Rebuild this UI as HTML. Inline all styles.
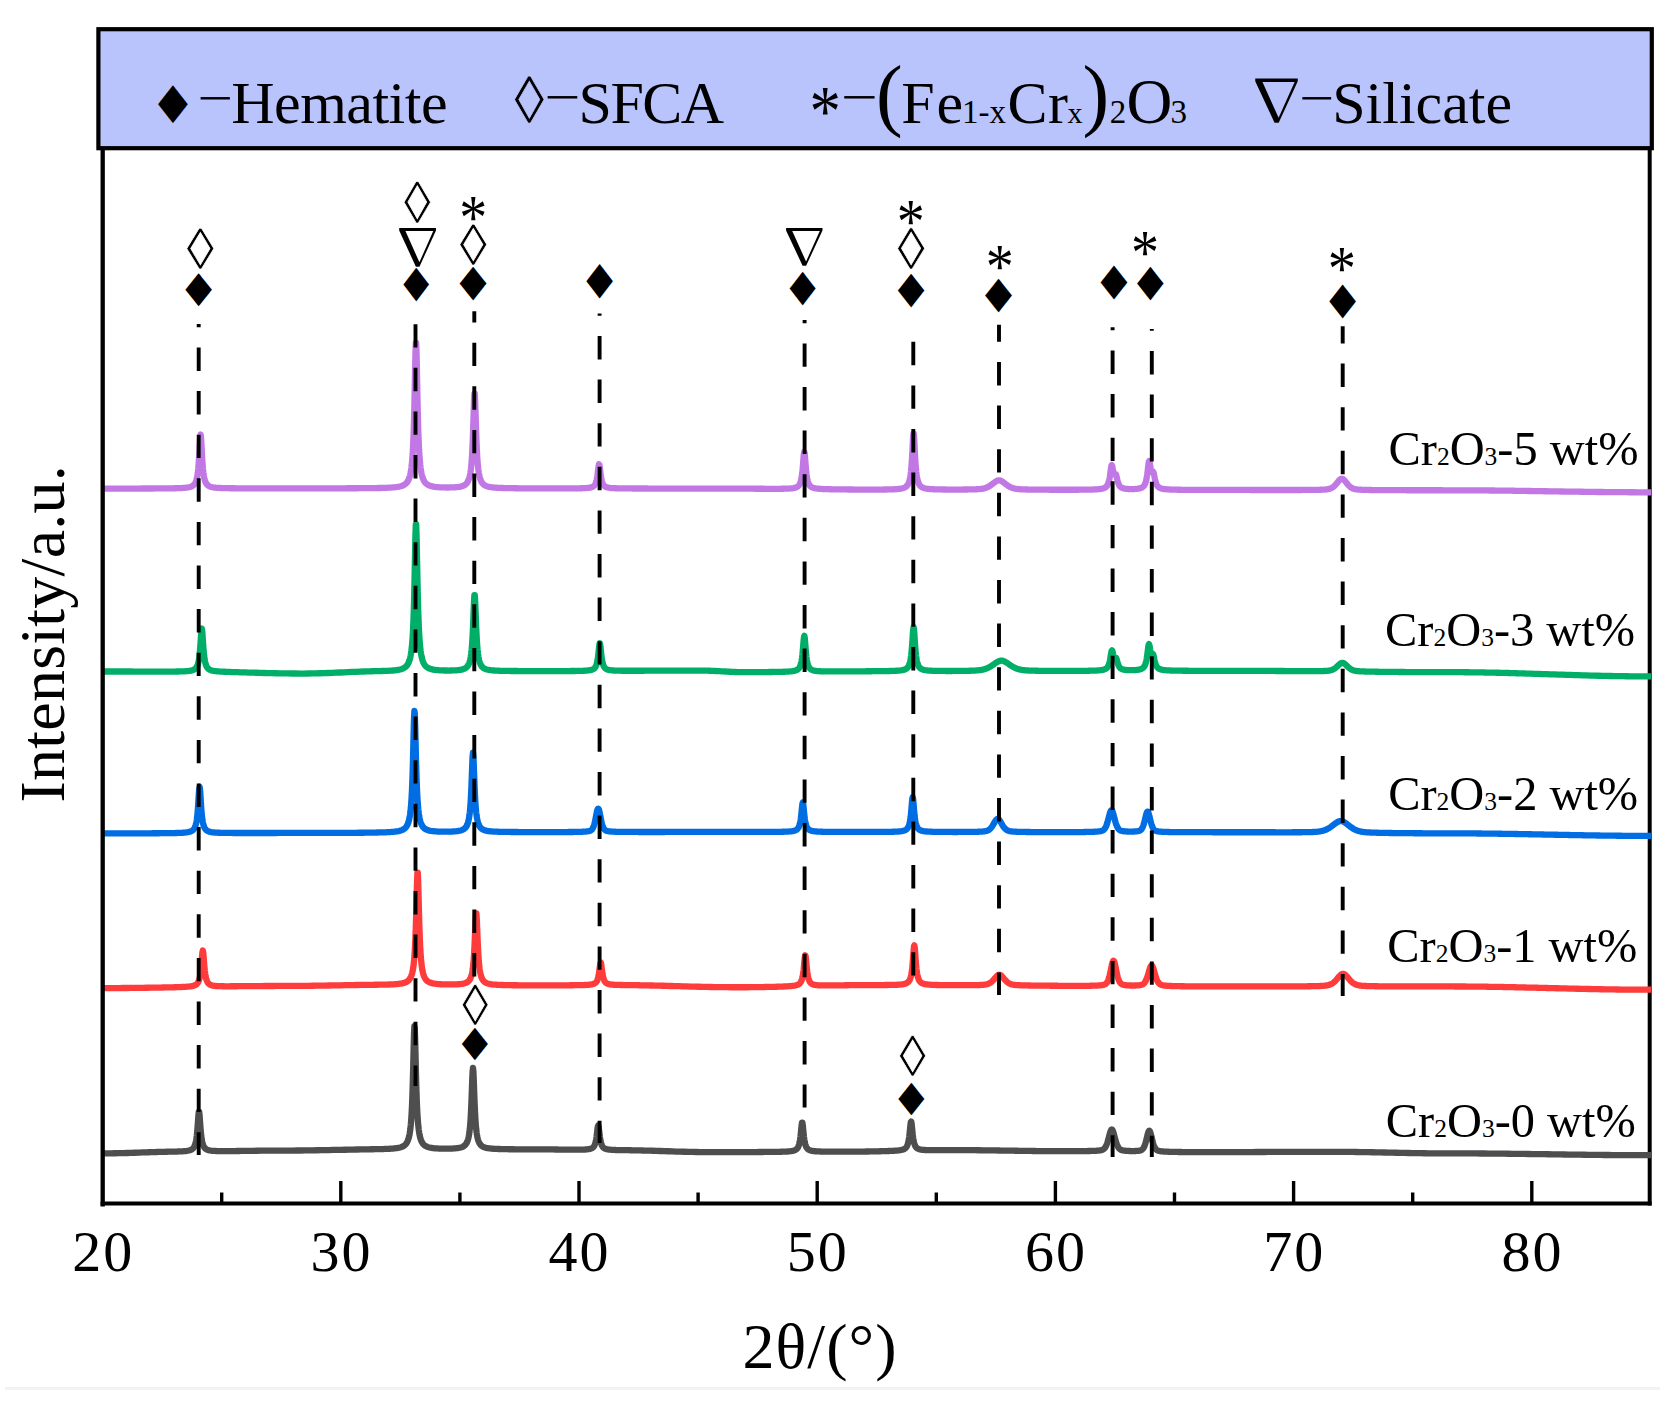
<!DOCTYPE html>
<html lang="en"><head><meta charset="utf-8"><title>XRD patterns</title>
<style>html,body{margin:0;padding:0;background:#fff}body{width:1670px;height:1404px;overflow:hidden}</style></head>
<body>
<svg width="1670" height="1404" viewBox="0 0 1670 1404" style="display:block">
<rect width="1670" height="1404" fill="#ffffff"/>
<rect x="5" y="1387" width="1655" height="3" fill="#f3f3f3"/>
<line x1="1649.7" y1="148" x2="1649.7" y2="1205.5" stroke="#000" stroke-width="4"/>
<path d="M102.8 1153.38 L106.8 1153.36 L110.8 1153.32 L114.8 1153.26 L118.8 1153.19 L122.8 1153.09 L126.8 1152.98 L130.8 1152.86 L134.8 1152.73 L138.8 1152.59 L142.8 1152.46 L146.8 1152.32 L148.8 1152.25 L150.8 1152.19 L152.8 1152.13 L154.8 1152.06 L156.8 1152.00 L158.8 1151.95 L160.8 1151.89 L162.8 1151.84 L164.8 1151.79 L166.8 1151.75 L168.8 1151.70 L170.8 1151.66 L172.8 1151.62 L174.8 1151.57 L175.8 1151.55 L176.8 1151.53 L177.8 1151.50 L178.8 1151.47 L179.8 1151.44 L180.8 1151.40 L181.8 1151.35 L182.8 1151.29 L183.8 1151.22 L184.8 1151.14 L185.8 1151.04 L186.8 1150.91 L187.8 1150.75 L188.8 1150.54 L189.2 1150.44 L189.6 1150.33 L190.0 1150.20 L190.4 1150.06 L190.8 1149.90 L191.2 1149.71 L191.6 1149.49 L192.0 1149.24 L192.4 1148.95 L192.8 1148.61 L193.2 1148.20 L193.6 1147.70 L194.0 1147.11 L194.4 1146.38 L194.8 1145.47 L195.2 1144.34 L195.6 1142.90 L196.0 1141.06 L196.4 1138.67 L196.8 1135.57 L197.2 1131.58 L197.6 1126.63 L198.0 1120.95 L198.4 1115.48 L198.8 1111.94 L199.2 1111.94 L199.6 1115.47 L200.0 1120.93 L200.4 1126.60 L200.8 1131.55 L201.2 1135.52 L201.6 1138.62 L202.0 1141.00 L202.4 1142.84 L202.8 1144.27 L203.2 1145.39 L203.6 1146.29 L204.0 1147.01 L204.4 1147.60 L204.8 1148.08 L205.2 1148.48 L205.6 1148.82 L206.0 1149.11 L206.4 1149.35 L206.8 1149.56 L207.2 1149.74 L207.6 1149.89 L208.0 1150.03 L208.4 1150.15 L208.8 1150.25 L209.2 1150.34 L209.6 1150.42 L210.0 1150.50 L211.0 1150.65 L212.0 1150.76 L213.0 1150.85 L214.0 1150.92 L215.0 1150.97 L216.0 1151.01 L217.0 1151.04 L218.0 1151.07 L219.0 1151.09 L220.0 1151.10 L221.0 1151.11 L222.0 1151.12 L223.0 1151.12 L224.0 1151.12 L225.0 1151.12 L227.0 1151.11 L229.0 1151.10 L231.0 1151.08 L233.0 1151.06 L235.0 1151.04 L237.0 1151.01 L239.0 1150.99 L241.0 1150.96 L243.0 1150.93 L245.0 1150.91 L247.0 1150.88 L249.0 1150.85 L251.0 1150.82 L253.0 1150.80 L257.0 1150.75 L261.0 1150.70 L265.0 1150.66 L269.0 1150.62 L273.0 1150.59 L277.0 1150.57 L281.0 1150.56 L285.0 1150.55 L289.0 1150.55 L293.0 1150.53 L297.0 1150.51 L301.0 1150.48 L305.0 1150.44 L309.0 1150.39 L313.0 1150.34 L317.0 1150.27 L321.0 1150.20 L325.0 1150.13 L329.0 1150.05 L333.0 1149.97 L337.0 1149.89 L341.0 1149.81 L345.0 1149.73 L349.0 1149.65 L353.0 1149.57 L357.0 1149.50 L361.0 1149.43 L363.0 1149.40 L365.0 1149.37 L367.0 1149.33 L369.0 1149.30 L371.0 1149.27 L373.0 1149.24 L375.0 1149.20 L377.0 1149.17 L379.0 1149.13 L381.0 1149.08 L383.0 1149.03 L385.0 1148.97 L387.0 1148.90 L389.0 1148.81 L390.0 1148.75 L391.0 1148.69 L392.0 1148.62 L393.0 1148.54 L394.0 1148.45 L395.0 1148.35 L396.0 1148.22 L397.0 1148.08 L398.0 1147.91 L399.0 1147.71 L400.0 1147.46 L401.0 1147.16 L402.0 1146.79 L403.0 1146.32 L404.0 1145.71 L404.4 1145.42 L404.8 1145.10 L405.2 1144.73 L405.6 1144.31 L406.0 1143.84 L406.4 1143.30 L406.8 1142.69 L407.2 1141.97 L407.6 1141.14 L408.0 1140.17 L408.4 1139.02 L408.8 1137.65 L409.2 1136.01 L409.6 1134.01 L410.0 1131.56 L410.4 1128.52 L410.8 1124.71 L411.2 1119.87 L411.6 1113.68 L412.0 1105.70 L412.4 1095.43 L412.8 1082.42 L413.2 1066.70 L413.6 1049.50 L414.0 1034.26 L414.4 1026.21 L414.8 1029.02 L415.2 1041.32 L415.6 1058.12 L416.0 1074.86 L416.4 1089.27 L416.8 1100.87 L417.2 1109.93 L417.6 1116.95 L418.0 1122.42 L418.4 1126.70 L418.8 1130.10 L419.2 1132.82 L419.6 1135.03 L420.0 1136.84 L420.4 1138.33 L420.8 1139.58 L421.2 1140.64 L421.6 1141.53 L422.0 1142.30 L422.4 1142.96 L422.8 1143.53 L423.2 1144.04 L423.6 1144.47 L424.0 1144.86 L424.4 1145.21 L424.8 1145.51 L425.2 1145.78 L425.6 1146.03 L426.6 1146.54 L427.6 1146.94 L428.6 1147.26 L429.6 1147.52 L430.6 1147.73 L431.6 1147.90 L432.6 1148.05 L433.6 1148.17 L434.6 1148.27 L435.6 1148.35 L436.6 1148.42 L437.6 1148.48 L438.6 1148.53 L439.6 1148.58 L440.6 1148.61 L442.6 1148.66 L444.6 1148.68 L446.6 1148.69 L448.6 1148.66 L449.6 1148.64 L450.6 1148.62 L451.6 1148.58 L452.6 1148.54 L453.6 1148.48 L454.6 1148.41 L455.6 1148.33 L456.6 1148.23 L457.6 1148.11 L458.6 1147.95 L459.6 1147.76 L460.6 1147.52 L461.6 1147.21 L462.6 1146.81 L463.0 1146.61 L463.4 1146.40 L463.8 1146.15 L464.2 1145.87 L464.6 1145.55 L465.0 1145.19 L465.4 1144.77 L465.8 1144.28 L466.2 1143.72 L466.6 1143.05 L467.0 1142.26 L467.4 1141.32 L467.8 1140.18 L468.2 1138.80 L468.6 1137.10 L469.0 1134.98 L469.4 1132.32 L469.8 1128.93 L470.2 1124.58 L470.6 1118.97 L471.0 1111.77 L471.4 1102.73 L471.8 1091.99 L472.2 1080.69 L472.6 1071.49 L473.0 1067.85 L473.4 1071.49 L473.8 1080.70 L474.2 1092.00 L474.6 1102.74 L475.0 1111.79 L475.4 1118.99 L475.8 1124.61 L476.2 1128.96 L476.6 1132.35 L477.0 1135.02 L477.4 1137.14 L477.8 1138.84 L478.2 1140.23 L478.6 1141.37 L479.0 1142.31 L479.4 1143.10 L479.8 1143.77 L480.2 1144.34 L480.6 1144.83 L481.0 1145.26 L481.4 1145.62 L481.8 1145.95 L482.2 1146.23 L482.6 1146.48 L483.0 1146.70 L483.4 1146.90 L483.8 1147.08 L484.2 1147.24 L485.2 1147.57 L486.2 1147.84 L487.2 1148.05 L488.2 1148.22 L489.2 1148.36 L490.2 1148.48 L491.2 1148.58 L492.2 1148.67 L493.2 1148.74 L494.2 1148.81 L495.2 1148.86 L496.2 1148.91 L497.2 1148.95 L498.2 1148.99 L499.2 1149.02 L501.2 1149.08 L503.2 1149.13 L505.2 1149.17 L507.2 1149.20 L509.2 1149.23 L511.2 1149.25 L513.2 1149.27 L515.2 1149.29 L517.2 1149.30 L519.2 1149.31 L521.2 1149.33 L523.2 1149.34 L525.2 1149.34 L527.2 1149.35 L529.2 1149.36 L533.2 1149.37 L537.2 1149.38 L541.2 1149.39 L545.2 1149.41 L547.2 1149.43 L549.2 1149.44 L551.2 1149.45 L553.2 1149.47 L555.2 1149.49 L557.2 1149.51 L559.2 1149.53 L561.2 1149.55 L563.2 1149.57 L565.2 1149.59 L567.2 1149.61 L569.2 1149.62 L571.2 1149.64 L573.2 1149.65 L574.2 1149.66 L575.2 1149.66 L576.2 1149.66 L577.2 1149.66 L578.2 1149.66 L579.2 1149.65 L580.2 1149.64 L581.2 1149.63 L582.2 1149.61 L583.2 1149.58 L584.2 1149.55 L585.2 1149.50 L586.2 1149.44 L587.2 1149.35 L588.2 1149.23 L588.6 1149.18 L589.0 1149.11 L589.4 1149.03 L589.8 1148.95 L590.2 1148.85 L590.6 1148.73 L591.0 1148.60 L591.4 1148.44 L591.8 1148.25 L592.2 1148.03 L592.6 1147.76 L593.0 1147.43 L593.4 1147.04 L593.8 1146.55 L594.2 1145.93 L594.6 1145.16 L595.0 1144.17 L595.4 1142.89 L595.8 1141.22 L596.2 1139.07 L596.6 1136.33 L597.0 1133.03 L597.4 1129.51 L597.8 1126.61 L598.2 1125.45 L598.6 1126.62 L599.0 1129.53 L599.4 1133.06 L599.8 1136.36 L600.2 1139.11 L600.6 1141.28 L601.0 1142.95 L601.4 1144.24 L601.8 1145.24 L602.2 1146.02 L602.6 1146.65 L603.0 1147.14 L603.4 1147.55 L603.8 1147.88 L604.2 1148.16 L604.6 1148.39 L605.0 1148.59 L605.4 1148.76 L605.8 1148.90 L606.2 1149.03 L606.6 1149.13 L607.0 1149.23 L607.4 1149.31 L607.8 1149.39 L608.2 1149.46 L608.6 1149.51 L609.0 1149.57 L609.4 1149.62 L610.4 1149.72 L611.4 1149.80 L612.4 1149.86 L613.4 1149.92 L614.4 1149.96 L615.4 1150.00 L616.4 1150.03 L617.4 1150.05 L618.4 1150.08 L619.4 1150.09 L620.4 1150.11 L621.4 1150.13 L622.4 1150.14 L623.4 1150.15 L624.4 1150.17 L626.4 1150.19 L628.4 1150.22 L630.4 1150.25 L632.4 1150.29 L634.4 1150.32 L636.4 1150.36 L638.4 1150.40 L640.4 1150.45 L642.4 1150.49 L644.4 1150.54 L646.4 1150.59 L648.4 1150.65 L650.4 1150.71 L652.4 1150.76 L656.4 1150.89 L660.4 1151.01 L664.4 1151.14 L668.4 1151.27 L672.4 1151.40 L676.4 1151.53 L680.4 1151.65 L684.4 1151.76 L688.4 1151.86 L692.4 1151.95 L696.4 1152.02 L700.4 1152.08 L704.4 1152.13 L708.4 1152.16 L712.4 1152.17 L716.4 1152.17 L720.4 1152.16 L724.4 1152.16 L728.4 1152.15 L732.4 1152.14 L736.4 1152.13 L740.4 1152.11 L744.4 1152.10 L748.4 1152.08 L750.4 1152.07 L752.4 1152.05 L754.4 1152.04 L756.4 1152.03 L758.4 1152.02 L760.4 1152.00 L762.4 1151.99 L764.4 1151.97 L766.4 1151.95 L768.4 1151.94 L770.4 1151.91 L772.4 1151.89 L774.4 1151.87 L776.4 1151.84 L778.4 1151.80 L779.4 1151.78 L780.4 1151.76 L781.4 1151.73 L782.4 1151.71 L783.4 1151.68 L784.4 1151.64 L785.4 1151.60 L786.4 1151.55 L787.4 1151.49 L788.4 1151.43 L789.4 1151.34 L790.4 1151.24 L791.4 1151.11 L792.4 1150.94 L792.8 1150.85 L793.2 1150.76 L793.6 1150.66 L794.0 1150.54 L794.4 1150.40 L794.8 1150.24 L795.2 1150.06 L795.6 1149.84 L796.0 1149.59 L796.4 1149.29 L796.8 1148.93 L797.2 1148.49 L797.6 1147.96 L798.0 1147.30 L798.4 1146.47 L798.8 1145.41 L799.2 1144.06 L799.6 1142.31 L800.0 1140.03 L800.4 1137.11 L800.8 1133.48 L801.2 1129.31 L801.6 1125.30 L802.0 1122.71 L802.4 1122.71 L802.8 1125.30 L803.2 1129.31 L803.6 1133.47 L804.0 1137.10 L804.4 1140.02 L804.8 1142.29 L805.2 1144.03 L805.6 1145.38 L806.0 1146.44 L806.4 1147.26 L806.8 1147.92 L807.2 1148.45 L807.6 1148.89 L808.0 1149.24 L808.4 1149.54 L808.8 1149.79 L809.2 1150.00 L809.6 1150.18 L810.0 1150.34 L810.4 1150.47 L810.8 1150.59 L811.2 1150.69 L811.6 1150.78 L812.0 1150.86 L812.4 1150.93 L812.8 1150.99 L813.2 1151.05 L814.2 1151.17 L815.2 1151.26 L816.2 1151.33 L817.2 1151.39 L818.2 1151.43 L819.2 1151.47 L820.2 1151.51 L821.2 1151.53 L822.2 1151.56 L823.2 1151.58 L824.2 1151.59 L825.2 1151.61 L826.2 1151.62 L827.2 1151.63 L828.2 1151.64 L830.2 1151.66 L832.2 1151.67 L834.2 1151.68 L836.2 1151.69 L838.2 1151.70 L840.2 1151.70 L842.2 1151.71 L844.2 1151.71 L846.2 1151.70 L848.2 1151.69 L850.2 1151.68 L852.2 1151.67 L854.2 1151.66 L856.2 1151.64 L860.2 1151.60 L862.2 1151.57 L864.2 1151.55 L866.2 1151.52 L868.2 1151.49 L870.2 1151.45 L872.2 1151.42 L874.2 1151.38 L876.2 1151.34 L878.2 1151.30 L880.2 1151.25 L882.2 1151.20 L884.2 1151.14 L886.2 1151.08 L887.2 1151.05 L888.2 1151.02 L889.2 1150.98 L890.2 1150.94 L891.2 1150.90 L892.2 1150.85 L893.2 1150.80 L894.2 1150.75 L895.2 1150.69 L896.2 1150.61 L897.2 1150.53 L898.2 1150.44 L899.2 1150.32 L900.2 1150.18 L901.2 1150.00 L901.6 1149.91 L902.0 1149.81 L902.4 1149.70 L902.8 1149.58 L903.2 1149.44 L903.6 1149.29 L904.0 1149.10 L904.4 1148.89 L904.8 1148.64 L905.2 1148.35 L905.6 1148.00 L906.0 1147.58 L906.4 1147.07 L906.8 1146.44 L907.2 1145.65 L907.6 1144.66 L908.0 1143.39 L908.4 1141.75 L908.8 1139.62 L909.2 1136.87 L909.6 1133.42 L910.0 1129.36 L910.4 1125.22 L910.8 1122.15 L911.2 1121.44 L911.6 1123.45 L912.0 1127.21 L912.4 1131.40 L912.8 1135.17 L913.2 1138.25 L913.6 1140.66 L914.0 1142.51 L914.4 1143.94 L914.8 1145.04 L915.2 1145.91 L915.6 1146.60 L916.0 1147.15 L916.4 1147.60 L916.8 1147.96 L917.2 1148.27 L917.6 1148.52 L918.0 1148.73 L918.4 1148.92 L918.8 1149.07 L919.2 1149.20 L919.6 1149.32 L920.0 1149.42 L920.4 1149.50 L920.8 1149.58 L921.2 1149.65 L921.6 1149.70 L922.0 1149.76 L923.0 1149.86 L924.0 1149.94 L925.0 1150.00 L926.0 1150.05 L927.0 1150.08 L928.0 1150.11 L929.0 1150.13 L930.0 1150.15 L931.0 1150.16 L932.0 1150.17 L933.0 1150.17 L934.0 1150.18 L935.0 1150.18 L936.0 1150.18 L937.0 1150.18 L939.0 1150.18 L941.0 1150.17 L943.0 1150.17 L945.0 1150.16 L947.0 1150.15 L949.0 1150.15 L951.0 1150.15 L953.0 1150.14 L955.0 1150.14 L957.0 1150.14 L959.0 1150.14 L961.0 1150.15 L963.0 1150.15 L965.0 1150.16 L967.0 1150.16 L971.0 1150.19 L975.0 1150.21 L979.0 1150.25 L983.0 1150.29 L987.0 1150.33 L991.0 1150.38 L995.0 1150.44 L999.0 1150.50 L1001.0 1150.53 L1003.0 1150.56 L1005.0 1150.59 L1007.0 1150.62 L1009.0 1150.65 L1011.0 1150.68 L1013.0 1150.71 L1015.0 1150.74 L1017.0 1150.77 L1019.0 1150.80 L1021.0 1150.83 L1023.0 1150.86 L1025.0 1150.89 L1027.0 1150.92 L1029.0 1150.94 L1031.0 1150.97 L1033.0 1150.99 L1035.0 1151.01 L1037.0 1151.03 L1039.0 1151.05 L1041.0 1151.07 L1043.0 1151.08 L1045.0 1151.09 L1047.0 1151.11 L1049.0 1151.12 L1051.0 1151.12 L1053.0 1151.13 L1055.0 1151.13 L1057.0 1151.13 L1059.0 1151.13 L1060.0 1151.13 L1061.0 1151.12 L1062.0 1151.12 L1063.0 1151.12 L1064.0 1151.12 L1065.0 1151.12 L1066.0 1151.11 L1067.0 1151.11 L1068.0 1151.11 L1069.0 1151.11 L1070.0 1151.11 L1071.0 1151.11 L1072.0 1151.10 L1073.0 1151.10 L1074.0 1151.10 L1075.0 1151.10 L1076.0 1151.10 L1077.0 1151.09 L1078.0 1151.09 L1079.0 1151.09 L1080.0 1151.08 L1081.0 1151.08 L1082.0 1151.07 L1083.0 1151.07 L1084.0 1151.06 L1085.0 1151.05 L1086.0 1151.04 L1087.0 1151.03 L1088.0 1151.02 L1089.0 1151.00 L1089.4 1150.99 L1089.8 1150.99 L1090.2 1150.98 L1090.6 1150.97 L1091.0 1150.96 L1091.4 1150.95 L1091.8 1150.94 L1092.2 1150.93 L1092.6 1150.92 L1093.0 1150.90 L1093.4 1150.89 L1093.8 1150.88 L1094.2 1150.86 L1094.6 1150.84 L1095.0 1150.82 L1095.4 1150.80 L1095.8 1150.78 L1096.2 1150.76 L1096.6 1150.73 L1097.0 1150.71 L1097.4 1150.68 L1097.8 1150.65 L1098.2 1150.61 L1098.6 1150.57 L1099.0 1150.53 L1099.4 1150.48 L1099.8 1150.43 L1100.2 1150.36 L1100.6 1150.29 L1101.0 1150.21 L1101.4 1150.12 L1101.8 1150.01 L1102.2 1149.87 L1102.6 1149.71 L1103.0 1149.51 L1103.4 1149.28 L1103.8 1148.99 L1104.2 1148.64 L1104.6 1148.22 L1105.0 1147.71 L1105.4 1147.11 L1105.8 1146.40 L1106.2 1145.58 L1106.6 1144.64 L1107.0 1143.58 L1107.4 1142.40 L1107.8 1141.10 L1108.2 1139.70 L1108.6 1138.22 L1109.0 1136.70 L1109.4 1135.17 L1109.8 1133.69 L1110.2 1132.33 L1110.6 1131.15 L1111.0 1130.23 L1111.4 1129.65 L1111.8 1129.45 L1112.2 1129.65 L1112.6 1130.24 L1113.0 1131.16 L1113.4 1132.35 L1113.8 1133.72 L1114.2 1135.20 L1114.6 1136.74 L1115.0 1138.26 L1115.4 1139.75 L1115.8 1141.15 L1116.2 1142.45 L1116.6 1143.64 L1117.0 1144.71 L1117.4 1145.66 L1117.8 1146.48 L1118.2 1147.19 L1118.6 1147.79 L1119.0 1148.30 L1119.4 1148.73 L1119.8 1149.08 L1120.2 1149.38 L1120.6 1149.62 L1121.0 1149.82 L1121.4 1149.98 L1121.8 1150.12 L1122.2 1150.24 L1122.6 1150.34 L1123.0 1150.42 L1123.4 1150.49 L1123.8 1150.56 L1124.2 1150.61 L1124.6 1150.66 L1125.0 1150.71 L1125.4 1150.75 L1125.8 1150.79 L1126.2 1150.82 L1126.6 1150.85 L1127.0 1150.88 L1127.4 1150.90 L1127.8 1150.92 L1128.2 1150.94 L1128.6 1150.96 L1129.0 1150.98 L1129.4 1150.99 L1129.8 1151.01 L1130.2 1151.02 L1130.6 1151.03 L1131.0 1151.04 L1131.4 1151.04 L1131.8 1151.05 L1132.2 1151.05 L1132.6 1151.05 L1133.0 1151.05 L1133.4 1151.05 L1133.8 1151.04 L1134.2 1151.03 L1134.6 1151.03 L1135.0 1151.01 L1135.4 1151.00 L1135.8 1150.98 L1136.2 1150.97 L1136.6 1150.94 L1137.0 1150.92 L1137.4 1150.89 L1137.8 1150.85 L1138.2 1150.81 L1138.6 1150.77 L1139.0 1150.71 L1139.4 1150.65 L1139.8 1150.57 L1140.2 1150.47 L1140.6 1150.36 L1141.0 1150.22 L1141.4 1150.04 L1141.8 1149.81 L1142.2 1149.53 L1142.6 1149.17 L1143.0 1148.73 L1143.4 1148.18 L1143.8 1147.51 L1144.2 1146.71 L1144.6 1145.76 L1145.0 1144.65 L1145.4 1143.39 L1145.8 1141.98 L1146.2 1140.44 L1146.6 1138.80 L1147.0 1137.12 L1147.4 1135.46 L1147.8 1133.89 L1148.2 1132.54 L1148.6 1131.50 L1149.0 1130.89 L1149.4 1130.77 L1149.8 1131.15 L1150.2 1132.00 L1150.6 1133.22 L1151.0 1134.71 L1151.4 1136.35 L1151.8 1138.04 L1152.2 1139.72 L1152.6 1141.33 L1153.0 1142.82 L1153.4 1144.17 L1153.8 1145.37 L1154.2 1146.41 L1154.6 1147.30 L1155.0 1148.04 L1155.4 1148.66 L1155.8 1149.17 L1156.2 1149.58 L1156.6 1149.91 L1157.0 1150.18 L1157.4 1150.39 L1157.8 1150.56 L1158.2 1150.71 L1158.6 1150.82 L1159.0 1150.92 L1159.4 1151.01 L1159.8 1151.08 L1160.2 1151.15 L1160.6 1151.21 L1161.0 1151.26 L1161.4 1151.31 L1161.8 1151.35 L1162.2 1151.39 L1162.6 1151.43 L1163.0 1151.46 L1163.4 1151.49 L1163.8 1151.52 L1164.2 1151.55 L1164.6 1151.57 L1165.0 1151.60 L1165.4 1151.62 L1165.8 1151.64 L1166.2 1151.66 L1166.6 1151.68 L1167.0 1151.70 L1167.4 1151.72 L1167.8 1151.73 L1168.2 1151.75 L1168.6 1151.76 L1169.0 1151.78 L1169.4 1151.79 L1170.4 1151.82 L1171.4 1151.85 L1172.4 1151.88 L1173.4 1151.90 L1174.4 1151.92 L1175.4 1151.94 L1176.4 1151.96 L1177.4 1151.97 L1178.4 1151.99 L1179.4 1152.00 L1180.4 1152.01 L1181.4 1152.02 L1182.4 1152.04 L1183.4 1152.05 L1184.4 1152.06 L1185.4 1152.07 L1186.4 1152.07 L1187.4 1152.08 L1188.4 1152.09 L1189.4 1152.10 L1190.4 1152.10 L1191.4 1152.11 L1192.4 1152.11 L1193.4 1152.12 L1194.4 1152.12 L1195.4 1152.13 L1196.4 1152.13 L1198.4 1152.13 L1200.4 1152.14 L1202.4 1152.14 L1204.4 1152.15 L1206.4 1152.15 L1208.4 1152.15 L1210.4 1152.15 L1212.4 1152.15 L1214.4 1152.15 L1216.4 1152.14 L1218.4 1152.14 L1220.4 1152.14 L1222.4 1152.14 L1224.4 1152.13 L1226.4 1152.13 L1228.4 1152.12 L1230.4 1152.12 L1232.4 1152.11 L1234.4 1152.11 L1236.4 1152.10 L1238.4 1152.09 L1240.4 1152.08 L1242.4 1152.08 L1244.4 1152.07 L1246.4 1152.06 L1248.4 1152.05 L1252.4 1152.03 L1256.4 1152.02 L1260.4 1152.00 L1264.4 1151.98 L1268.4 1151.96 L1272.4 1151.94 L1276.4 1151.92 L1280.4 1151.91 L1284.4 1151.89 L1288.4 1151.87 L1292.4 1151.86 L1296.4 1151.84 L1300.4 1151.83 L1304.4 1151.82 L1308.4 1151.81 L1312.4 1151.80 L1316.4 1151.80 L1320.4 1151.79 L1324.4 1151.79 L1328.4 1151.79 L1332.4 1151.80 L1336.4 1151.82 L1340.4 1151.84 L1344.4 1151.87 L1348.4 1151.91 L1352.4 1151.96 L1356.4 1152.01 L1360.4 1152.07 L1364.4 1152.13 L1368.4 1152.20 L1372.4 1152.27 L1376.4 1152.35 L1380.4 1152.43 L1384.4 1152.51 L1388.4 1152.59 L1392.4 1152.67 L1396.4 1152.76 L1400.4 1152.83 L1404.4 1152.91 L1408.4 1152.98 L1412.4 1153.05 L1416.4 1153.12 L1420.4 1153.18 L1424.4 1153.23 L1428.4 1153.28 L1432.4 1153.32 L1436.4 1153.35 L1440.4 1153.37 L1444.4 1153.39 L1448.4 1153.40 L1452.4 1153.40 L1456.4 1153.40 L1460.4 1153.41 L1464.4 1153.42 L1468.4 1153.43 L1472.4 1153.45 L1476.4 1153.47 L1480.4 1153.50 L1484.4 1153.52 L1488.4 1153.56 L1492.4 1153.59 L1496.4 1153.63 L1500.4 1153.66 L1504.4 1153.71 L1508.4 1153.75 L1512.4 1153.80 L1516.4 1153.84 L1520.4 1153.89 L1524.4 1153.94 L1528.4 1154.00 L1532.4 1154.05 L1536.4 1154.11 L1540.4 1154.16 L1544.4 1154.22 L1548.4 1154.27 L1552.4 1154.33 L1556.4 1154.39 L1560.4 1154.44 L1564.4 1154.50 L1568.4 1154.55 L1572.4 1154.61 L1576.4 1154.66 L1580.4 1154.71 L1584.4 1154.76 L1588.4 1154.81 L1592.4 1154.85 L1596.4 1154.90 L1600.4 1154.94 L1604.4 1154.98 L1608.4 1155.01 L1612.4 1155.05 L1616.4 1155.08 L1620.4 1155.10 L1624.4 1155.13 L1628.4 1155.15 L1632.4 1155.16 L1636.4 1155.18 L1640.4 1155.19 L1644.4 1155.19 L1648.4 1155.20 L1651.2 1155.20" fill="none" stroke="#4e4e4e" stroke-width="6.3" stroke-linejoin="round" stroke-linecap="butt"/>
<path d="M102.8 988.08 L106.8 988.08 L110.8 988.07 L114.8 988.05 L118.8 988.03 L122.8 988.01 L126.8 987.98 L130.8 987.95 L134.8 987.91 L138.8 987.86 L142.8 987.82 L146.8 987.76 L150.8 987.71 L152.8 987.68 L154.8 987.64 L156.8 987.61 L158.8 987.58 L160.8 987.54 L162.8 987.50 L164.8 987.47 L166.8 987.42 L168.8 987.38 L170.8 987.34 L172.8 987.29 L174.8 987.23 L176.8 987.18 L178.8 987.11 L179.8 987.08 L180.8 987.04 L181.8 987.00 L182.8 986.95 L183.8 986.90 L184.8 986.85 L185.8 986.79 L186.8 986.72 L187.8 986.64 L188.8 986.55 L189.8 986.44 L190.8 986.30 L191.8 986.14 L192.8 985.92 L193.2 985.82 L193.6 985.71 L194.0 985.58 L194.4 985.44 L194.8 985.28 L195.2 985.09 L195.6 984.87 L196.0 984.62 L196.4 984.33 L196.8 983.99 L197.2 983.58 L197.6 983.08 L198.0 982.48 L198.4 981.74 L198.8 980.82 L199.2 979.67 L199.6 978.19 L200.0 976.28 L200.4 973.81 L200.8 970.62 L201.2 966.56 L201.6 961.68 L202.0 956.47 L202.4 952.17 L202.8 950.45 L203.2 952.16 L203.6 956.45 L204.0 961.64 L204.4 966.51 L204.8 970.55 L205.2 973.73 L205.6 976.18 L206.0 978.07 L206.4 979.54 L206.8 980.68 L207.2 981.59 L207.6 982.31 L208.0 982.90 L208.4 983.38 L208.8 983.77 L209.2 984.11 L209.6 984.38 L210.0 984.62 L210.4 984.82 L210.8 984.99 L211.2 985.14 L211.6 985.27 L212.0 985.38 L212.4 985.48 L212.8 985.57 L213.2 985.65 L213.6 985.72 L214.0 985.78 L215.0 985.90 L216.0 985.99 L217.0 986.07 L218.0 986.12 L219.0 986.17 L220.0 986.20 L221.0 986.22 L222.0 986.24 L223.0 986.26 L224.0 986.27 L225.0 986.28 L226.0 986.28 L227.0 986.28 L228.0 986.28 L229.0 986.28 L231.0 986.27 L233.0 986.26 L235.0 986.25 L237.0 986.24 L239.0 986.22 L241.0 986.20 L243.0 986.19 L245.0 986.17 L247.0 986.15 L249.0 986.14 L251.0 986.12 L253.0 986.10 L255.0 986.09 L257.0 986.07 L261.0 986.04 L265.0 986.02 L269.0 986.00 L273.0 985.98 L277.0 985.97 L281.0 985.96 L285.0 985.95 L289.0 985.95 L293.0 985.94 L297.0 985.92 L301.0 985.89 L305.0 985.86 L309.0 985.81 L313.0 985.76 L317.0 985.70 L321.0 985.64 L325.0 985.57 L329.0 985.50 L333.0 985.43 L337.0 985.36 L341.0 985.29 L345.0 985.21 L349.0 985.14 L353.0 985.08 L357.0 985.01 L361.0 984.95 L365.0 984.89 L367.0 984.87 L369.0 984.84 L371.0 984.81 L373.0 984.79 L375.0 984.76 L377.0 984.73 L379.0 984.71 L381.0 984.68 L383.0 984.64 L385.0 984.60 L387.0 984.55 L389.0 984.49 L391.0 984.42 L393.0 984.33 L394.0 984.27 L395.0 984.21 L396.0 984.14 L397.0 984.06 L398.0 983.97 L399.0 983.86 L400.0 983.73 L401.0 983.58 L402.0 983.40 L403.0 983.18 L404.0 982.91 L405.0 982.58 L406.0 982.16 L407.0 981.62 L407.4 981.36 L407.8 981.07 L408.2 980.74 L408.6 980.38 L409.0 979.96 L409.4 979.48 L409.8 978.93 L410.2 978.30 L410.6 977.57 L411.0 976.71 L411.4 975.70 L411.8 974.50 L412.2 973.06 L412.6 971.31 L413.0 969.18 L413.4 966.53 L413.8 963.23 L414.2 959.05 L414.6 953.70 L415.0 946.82 L415.4 937.96 L415.8 926.66 L416.2 912.79 L416.6 897.12 L417.0 882.26 L417.4 872.76 L417.8 872.76 L418.2 882.26 L418.6 897.12 L419.0 912.80 L419.4 926.67 L419.8 937.96 L420.2 946.83 L420.6 953.71 L421.0 959.06 L421.4 963.24 L421.8 966.54 L422.2 969.18 L422.6 971.32 L423.0 973.07 L423.4 974.51 L423.8 975.71 L424.2 976.72 L424.6 977.58 L425.0 978.31 L425.4 978.95 L425.8 979.49 L426.2 979.97 L426.6 980.39 L427.0 980.76 L427.4 981.09 L427.8 981.38 L428.2 981.64 L428.6 981.87 L429.0 982.08 L430.0 982.52 L431.0 982.87 L432.0 983.15 L433.0 983.37 L434.0 983.56 L435.0 983.72 L436.0 983.85 L437.0 983.96 L438.0 984.05 L439.0 984.13 L440.0 984.20 L441.0 984.25 L442.0 984.30 L443.0 984.34 L444.0 984.38 L446.0 984.43 L448.0 984.46 L450.0 984.47 L452.0 984.46 L453.0 984.45 L454.0 984.43 L455.0 984.40 L456.0 984.36 L457.0 984.32 L458.0 984.26 L459.0 984.19 L460.0 984.10 L461.0 983.99 L462.0 983.85 L463.0 983.68 L464.0 983.46 L465.0 983.17 L466.0 982.80 L466.4 982.62 L466.8 982.42 L467.2 982.18 L467.6 981.92 L468.0 981.62 L468.4 981.27 L468.8 980.87 L469.2 980.41 L469.6 979.86 L470.0 979.22 L470.4 978.45 L470.8 977.53 L471.2 976.42 L471.6 975.06 L472.0 973.37 L472.4 971.26 L472.8 968.59 L473.2 965.17 L473.6 960.77 L474.0 955.10 L474.4 947.87 L474.8 939.00 L475.2 928.97 L475.6 919.46 L476.0 913.39 L476.4 913.39 L476.8 919.47 L477.2 928.99 L477.6 939.02 L478.0 947.90 L478.4 955.13 L478.8 960.81 L479.2 965.22 L479.6 968.64 L480.0 971.32 L480.4 973.44 L480.8 975.14 L481.2 976.51 L481.6 977.63 L482.0 978.55 L482.4 979.32 L482.8 979.97 L483.2 980.53 L483.6 981.00 L484.0 981.41 L484.4 981.76 L484.8 982.07 L485.2 982.34 L485.6 982.58 L486.0 982.79 L486.4 982.98 L486.8 983.15 L487.2 983.30 L487.6 983.44 L488.6 983.72 L489.6 983.95 L490.6 984.14 L491.6 984.29 L492.6 984.42 L493.6 984.52 L494.6 984.61 L495.6 984.69 L496.6 984.76 L497.6 984.82 L498.6 984.87 L499.6 984.91 L500.6 984.96 L501.6 984.99 L502.6 985.02 L504.6 985.08 L506.6 985.13 L508.6 985.17 L510.6 985.20 L512.6 985.23 L514.6 985.25 L516.6 985.27 L518.6 985.29 L520.6 985.31 L522.6 985.32 L524.6 985.34 L526.6 985.35 L528.6 985.36 L530.6 985.36 L532.6 985.37 L536.6 985.38 L540.6 985.39 L544.6 985.39 L548.6 985.38 L550.6 985.38 L552.6 985.37 L554.6 985.36 L556.6 985.36 L558.6 985.35 L560.6 985.34 L562.6 985.32 L564.6 985.31 L566.6 985.29 L568.6 985.28 L570.6 985.26 L572.6 985.24 L574.6 985.21 L576.6 985.18 L577.6 985.17 L578.6 985.15 L579.6 985.13 L580.6 985.11 L581.6 985.09 L582.6 985.06 L583.6 985.03 L584.6 984.99 L585.6 984.95 L586.6 984.90 L587.6 984.83 L588.6 984.76 L589.6 984.66 L590.6 984.54 L591.0 984.48 L591.4 984.41 L591.8 984.34 L592.2 984.26 L592.6 984.16 L593.0 984.05 L593.4 983.92 L593.8 983.77 L594.2 983.60 L594.6 983.40 L595.0 983.15 L595.4 982.86 L595.8 982.50 L596.2 982.07 L596.6 981.52 L597.0 980.84 L597.4 979.97 L597.8 978.86 L598.2 977.41 L598.6 975.53 L599.0 973.13 L599.4 970.19 L599.8 966.92 L600.2 963.99 L600.6 962.42 L601.0 962.97 L601.4 965.35 L601.8 968.56 L602.2 971.71 L602.6 974.39 L603.0 976.52 L603.4 978.16 L603.8 979.43 L604.2 980.41 L604.6 981.18 L605.0 981.78 L605.4 982.27 L605.8 982.66 L606.2 982.98 L606.6 983.24 L607.0 983.46 L607.4 983.65 L607.8 983.80 L608.2 983.94 L608.6 984.05 L609.0 984.15 L609.4 984.24 L609.8 984.32 L610.2 984.39 L610.6 984.45 L611.0 984.50 L611.4 984.55 L611.8 984.59 L612.8 984.68 L613.8 984.75 L614.8 984.81 L615.8 984.85 L616.8 984.89 L617.8 984.92 L618.8 984.95 L619.8 984.97 L620.8 984.99 L621.8 985.01 L622.8 985.02 L623.8 985.04 L624.8 985.05 L625.8 985.07 L626.8 985.08 L628.8 985.11 L630.8 985.13 L632.8 985.16 L634.8 985.19 L636.8 985.22 L638.8 985.25 L640.8 985.28 L642.8 985.32 L644.8 985.36 L646.8 985.40 L648.8 985.44 L650.8 985.48 L652.8 985.52 L654.8 985.57 L658.8 985.67 L662.8 985.77 L666.8 985.87 L670.8 985.98 L674.8 986.09 L678.8 986.21 L682.8 986.32 L686.8 986.43 L690.8 986.54 L694.8 986.64 L698.8 986.74 L702.8 986.84 L706.8 986.92 L710.8 987.00 L714.8 987.07 L718.8 987.13 L722.8 987.18 L726.8 987.22 L730.8 987.24 L734.8 987.25 L738.8 987.26 L742.8 987.25 L746.8 987.23 L750.8 987.20 L754.8 987.16 L756.8 987.13 L758.8 987.11 L760.8 987.08 L762.8 987.05 L764.8 987.01 L766.8 986.97 L768.8 986.93 L770.8 986.89 L772.8 986.84 L774.8 986.79 L776.8 986.74 L778.8 986.68 L780.8 986.61 L781.8 986.58 L782.8 986.54 L783.8 986.50 L784.8 986.45 L785.8 986.41 L786.8 986.35 L787.8 986.30 L788.8 986.23 L789.8 986.16 L790.8 986.08 L791.8 985.98 L792.8 985.87 L793.8 985.74 L794.8 985.57 L795.2 985.49 L795.6 985.40 L796.0 985.30 L796.4 985.19 L796.8 985.07 L797.2 984.93 L797.6 984.78 L798.0 984.60 L798.4 984.39 L798.8 984.14 L799.2 983.86 L799.6 983.52 L800.0 983.11 L800.4 982.62 L800.8 982.02 L801.2 981.28 L801.6 980.34 L802.0 979.16 L802.4 977.63 L802.8 975.66 L803.2 973.10 L803.6 969.83 L804.0 965.82 L804.4 961.38 L804.8 957.39 L805.2 955.25 L805.6 955.98 L806.0 959.21 L806.4 963.56 L806.8 967.83 L807.2 971.46 L807.6 974.34 L808.0 976.57 L808.4 978.29 L808.8 979.61 L809.2 980.64 L809.6 981.46 L810.0 982.10 L810.4 982.62 L810.8 983.05 L811.2 983.40 L811.6 983.69 L812.0 983.93 L812.4 984.14 L812.8 984.31 L813.2 984.46 L813.6 984.59 L814.0 984.70 L814.4 984.80 L814.8 984.88 L815.2 984.95 L815.6 985.02 L816.0 985.07 L816.4 985.12 L817.4 985.22 L818.4 985.29 L819.4 985.35 L820.4 985.39 L821.4 985.41 L822.4 985.43 L823.4 985.45 L824.4 985.45 L825.4 985.46 L826.4 985.46 L827.4 985.46 L828.4 985.45 L829.4 985.45 L830.4 985.44 L831.4 985.43 L833.4 985.41 L835.4 985.39 L837.4 985.36 L839.4 985.34 L841.4 985.32 L843.4 985.29 L845.4 985.27 L847.4 985.25 L849.4 985.22 L851.4 985.20 L853.4 985.18 L855.4 985.17 L857.4 985.15 L859.4 985.14 L861.4 985.12 L863.4 985.11 L865.4 985.10 L867.4 985.10 L869.4 985.09 L871.4 985.09 L873.4 985.08 L875.4 985.07 L877.4 985.07 L879.4 985.06 L881.4 985.04 L883.4 985.03 L885.4 985.01 L887.4 984.99 L889.4 984.96 L890.4 984.95 L891.4 984.93 L892.4 984.91 L893.4 984.88 L894.4 984.85 L895.4 984.82 L896.4 984.78 L897.4 984.73 L898.4 984.67 L899.4 984.61 L900.4 984.52 L901.4 984.42 L902.4 984.29 L903.4 984.13 L904.4 983.91 L904.8 983.80 L905.2 983.69 L905.6 983.55 L906.0 983.40 L906.4 983.22 L906.8 983.02 L907.2 982.78 L907.6 982.50 L908.0 982.18 L908.4 981.79 L908.8 981.33 L909.2 980.77 L909.6 980.09 L910.0 979.24 L910.4 978.18 L910.8 976.84 L911.2 975.13 L911.6 972.91 L912.0 970.02 L912.4 966.30 L912.8 961.62 L913.2 956.11 L913.6 950.50 L914.0 946.33 L914.4 945.37 L914.8 948.11 L915.2 953.24 L915.6 958.95 L916.0 964.09 L916.4 968.29 L916.8 971.57 L917.2 974.10 L917.6 976.05 L918.0 977.56 L918.4 978.75 L918.8 979.70 L919.2 980.46 L919.6 981.08 L920.0 981.59 L920.4 982.01 L920.8 982.37 L921.2 982.67 L921.6 982.93 L922.0 983.15 L922.4 983.34 L922.8 983.50 L923.2 983.65 L923.6 983.78 L924.0 983.89 L924.4 983.99 L924.8 984.08 L925.2 984.16 L926.2 984.33 L927.2 984.46 L928.2 984.57 L929.2 984.66 L930.2 984.73 L931.2 984.79 L932.2 984.84 L933.2 984.88 L934.2 984.92 L935.2 984.95 L936.2 984.98 L937.2 985.00 L938.2 985.02 L939.2 985.04 L940.2 985.06 L941.2 985.07 L942.2 985.09 L943.2 985.10 L944.2 985.11 L945.2 985.12 L946.2 985.13 L947.2 985.14 L948.2 985.15 L949.2 985.16 L950.2 985.16 L951.2 985.17 L952.2 985.17 L953.2 985.18 L954.2 985.18 L955.2 985.19 L956.2 985.19 L957.2 985.19 L958.2 985.20 L959.2 985.20 L960.2 985.20 L961.2 985.20 L962.2 985.20 L963.2 985.20 L964.2 985.20 L964.6 985.20 L965.0 985.20 L965.4 985.20 L965.8 985.20 L966.2 985.19 L966.6 985.19 L967.0 985.19 L967.4 985.19 L967.8 985.19 L968.2 985.19 L968.6 985.18 L969.0 985.18 L969.4 985.18 L969.8 985.18 L970.2 985.17 L970.6 985.17 L971.0 985.17 L971.4 985.16 L971.8 985.16 L972.2 985.16 L972.6 985.15 L973.0 985.15 L973.4 985.14 L973.8 985.14 L974.2 985.13 L974.6 985.13 L975.0 985.12 L975.4 985.11 L975.8 985.11 L976.2 985.10 L976.6 985.09 L977.0 985.08 L977.4 985.07 L977.8 985.06 L978.2 985.05 L978.6 985.04 L979.0 985.03 L979.4 985.02 L979.8 985.00 L980.2 984.99 L980.6 984.97 L981.0 984.95 L981.4 984.93 L981.8 984.91 L982.2 984.89 L982.6 984.86 L983.0 984.83 L983.4 984.79 L983.8 984.76 L984.2 984.71 L984.6 984.67 L985.0 984.61 L985.4 984.55 L985.8 984.48 L986.2 984.40 L986.6 984.31 L987.0 984.21 L987.4 984.10 L987.8 983.97 L988.2 983.82 L988.6 983.66 L989.0 983.48 L989.4 983.28 L989.8 983.05 L990.2 982.81 L990.6 982.54 L991.0 982.25 L991.4 981.93 L991.8 981.59 L992.2 981.22 L992.6 980.84 L993.0 980.43 L993.4 980.00 L993.8 979.55 L994.2 979.09 L994.6 978.62 L995.0 978.15 L995.4 977.68 L995.8 977.21 L996.2 976.76 L996.6 976.33 L997.0 975.93 L997.4 975.58 L997.8 975.28 L998.2 975.04 L998.6 974.87 L999.0 974.77 L999.4 974.75 L999.8 974.81 L1000.2 974.95 L1000.6 975.16 L1001.0 975.44 L1001.4 975.77 L1001.8 976.15 L1002.2 976.57 L1002.6 977.02 L1003.0 977.48 L1003.4 977.96 L1003.8 978.43 L1004.2 978.91 L1004.6 979.38 L1005.0 979.84 L1005.4 980.28 L1005.8 980.70 L1006.2 981.11 L1006.6 981.49 L1007.0 981.84 L1007.4 982.18 L1007.8 982.49 L1008.2 982.77 L1008.6 983.03 L1009.0 983.27 L1009.4 983.49 L1009.8 983.68 L1010.2 983.86 L1010.6 984.02 L1011.0 984.16 L1011.4 984.28 L1011.8 984.40 L1012.2 984.49 L1012.6 984.58 L1013.0 984.66 L1013.4 984.73 L1013.8 984.79 L1014.2 984.85 L1014.6 984.90 L1015.0 984.94 L1015.4 984.98 L1015.8 985.02 L1016.2 985.05 L1016.6 985.08 L1017.0 985.11 L1017.4 985.13 L1017.8 985.16 L1018.2 985.18 L1018.6 985.20 L1019.0 985.22 L1019.4 985.24 L1019.8 985.25 L1020.2 985.27 L1020.6 985.29 L1021.0 985.30 L1021.4 985.31 L1021.8 985.33 L1022.2 985.34 L1022.6 985.35 L1023.0 985.36 L1023.4 985.37 L1023.8 985.38 L1024.2 985.40 L1024.6 985.41 L1025.0 985.42 L1025.4 985.42 L1025.8 985.43 L1026.2 985.44 L1026.6 985.45 L1027.0 985.46 L1027.4 985.47 L1027.8 985.47 L1028.2 985.48 L1028.6 985.49 L1029.0 985.50 L1029.4 985.50 L1029.8 985.51 L1030.2 985.52 L1030.6 985.52 L1031.0 985.53 L1031.4 985.54 L1031.8 985.54 L1032.2 985.55 L1032.6 985.55 L1033.0 985.56 L1033.4 985.56 L1033.8 985.57 L1034.2 985.57 L1034.6 985.58 L1035.0 985.58 L1035.4 985.59 L1036.4 985.60 L1037.4 985.61 L1038.4 985.62 L1039.4 985.63 L1040.4 985.64 L1041.4 985.65 L1042.4 985.66 L1043.4 985.67 L1044.4 985.68 L1045.4 985.69 L1046.4 985.70 L1047.4 985.70 L1048.4 985.71 L1049.4 985.72 L1050.4 985.73 L1051.4 985.73 L1052.4 985.74 L1053.4 985.75 L1054.4 985.75 L1055.4 985.76 L1056.4 985.76 L1057.4 985.77 L1058.4 985.78 L1059.4 985.78 L1060.4 985.79 L1061.4 985.79 L1062.4 985.80 L1063.4 985.80 L1064.4 985.80 L1065.4 985.81 L1066.4 985.81 L1067.4 985.82 L1068.4 985.82 L1069.4 985.82 L1070.4 985.83 L1071.4 985.83 L1072.4 985.83 L1073.4 985.83 L1074.4 985.83 L1075.4 985.84 L1076.4 985.84 L1077.4 985.84 L1078.4 985.84 L1079.4 985.84 L1080.4 985.83 L1081.4 985.83 L1082.4 985.83 L1083.4 985.83 L1084.4 985.82 L1085.4 985.82 L1086.4 985.81 L1087.4 985.80 L1088.4 985.79 L1089.4 985.78 L1090.4 985.76 L1091.4 985.74 L1092.4 985.72 L1093.4 985.70 L1093.8 985.69 L1094.2 985.68 L1094.6 985.67 L1095.0 985.65 L1095.4 985.64 L1095.8 985.62 L1096.2 985.61 L1096.6 985.59 L1097.0 985.57 L1097.4 985.55 L1097.8 985.52 L1098.2 985.50 L1098.6 985.47 L1099.0 985.45 L1099.4 985.41 L1099.8 985.38 L1100.2 985.34 L1100.6 985.30 L1101.0 985.26 L1101.4 985.21 L1101.8 985.16 L1102.2 985.10 L1102.6 985.03 L1103.0 984.95 L1103.4 984.86 L1103.8 984.76 L1104.2 984.63 L1104.6 984.49 L1105.0 984.30 L1105.4 984.08 L1105.8 983.80 L1106.2 983.46 L1106.6 983.03 L1107.0 982.51 L1107.4 981.87 L1107.8 981.09 L1108.2 980.16 L1108.6 979.06 L1109.0 977.79 L1109.4 976.34 L1109.8 974.72 L1110.2 972.95 L1110.6 971.06 L1111.0 969.10 L1111.4 967.13 L1111.8 965.24 L1112.2 963.55 L1112.6 962.16 L1113.0 961.20 L1113.4 960.77 L1113.8 960.91 L1114.2 961.62 L1114.6 962.80 L1115.0 964.36 L1115.4 966.17 L1115.8 968.11 L1116.2 970.09 L1116.6 972.02 L1117.0 973.85 L1117.4 975.55 L1117.8 977.09 L1118.2 978.45 L1118.6 979.63 L1119.0 980.64 L1119.4 981.49 L1119.8 982.20 L1120.2 982.78 L1120.6 983.25 L1121.0 983.63 L1121.4 983.94 L1121.8 984.19 L1122.2 984.39 L1122.6 984.55 L1123.0 984.69 L1123.4 984.80 L1123.8 984.89 L1124.2 984.97 L1124.6 985.04 L1125.0 985.11 L1125.4 985.16 L1125.8 985.21 L1126.2 985.25 L1126.6 985.29 L1127.0 985.32 L1127.4 985.35 L1127.8 985.38 L1128.2 985.41 L1128.6 985.43 L1129.0 985.45 L1129.4 985.46 L1129.8 985.48 L1130.2 985.49 L1130.6 985.50 L1131.0 985.51 L1131.4 985.52 L1131.8 985.52 L1132.2 985.53 L1132.6 985.53 L1133.0 985.53 L1133.4 985.53 L1133.8 985.52 L1134.2 985.52 L1134.6 985.51 L1135.0 985.50 L1135.4 985.49 L1135.8 985.48 L1136.2 985.46 L1136.6 985.44 L1137.0 985.42 L1137.4 985.39 L1137.8 985.37 L1138.2 985.34 L1138.6 985.30 L1139.0 985.26 L1139.4 985.21 L1139.8 985.16 L1140.2 985.10 L1140.6 985.02 L1141.0 984.94 L1141.4 984.83 L1141.8 984.71 L1142.2 984.56 L1142.6 984.38 L1143.0 984.16 L1143.4 983.90 L1143.8 983.58 L1144.2 983.19 L1144.6 982.73 L1145.0 982.18 L1145.4 981.55 L1145.8 980.80 L1146.2 979.96 L1146.6 979.00 L1147.0 977.93 L1147.4 976.75 L1147.8 975.49 L1148.2 974.14 L1148.6 972.75 L1149.0 971.34 L1149.4 969.95 L1149.8 968.65 L1150.2 967.48 L1150.6 966.53 L1151.0 965.85 L1151.4 965.49 L1151.8 965.50 L1152.2 965.86 L1152.6 966.55 L1153.0 967.51 L1153.4 968.68 L1153.8 969.99 L1154.2 971.38 L1154.6 972.80 L1155.0 974.20 L1155.4 975.55 L1155.8 976.82 L1156.2 978.00 L1156.6 979.08 L1157.0 980.05 L1157.4 980.90 L1157.8 981.65 L1158.2 982.30 L1158.6 982.85 L1159.0 983.32 L1159.4 983.71 L1159.8 984.04 L1160.2 984.31 L1160.6 984.54 L1161.0 984.73 L1161.4 984.89 L1161.8 985.02 L1162.2 985.13 L1162.6 985.23 L1163.0 985.31 L1163.4 985.38 L1163.8 985.44 L1164.2 985.50 L1164.6 985.55 L1165.0 985.60 L1165.4 985.64 L1165.8 985.68 L1166.2 985.71 L1166.6 985.74 L1167.0 985.77 L1167.4 985.80 L1167.8 985.83 L1168.2 985.85 L1168.6 985.88 L1169.0 985.90 L1169.4 985.92 L1169.8 985.94 L1170.2 985.96 L1170.6 985.98 L1171.0 985.99 L1171.4 986.01 L1171.8 986.02 L1172.2 986.04 L1172.6 986.05 L1173.0 986.06 L1173.4 986.08 L1173.8 986.09 L1174.2 986.10 L1174.6 986.11 L1175.0 986.12 L1176.0 986.14 L1177.0 986.16 L1178.0 986.18 L1179.0 986.20 L1180.0 986.22 L1181.0 986.23 L1182.0 986.24 L1183.0 986.26 L1184.0 986.27 L1185.0 986.28 L1186.0 986.29 L1187.0 986.30 L1188.0 986.31 L1189.0 986.31 L1190.0 986.32 L1191.0 986.33 L1192.0 986.34 L1193.0 986.34 L1194.0 986.35 L1195.0 986.35 L1196.0 986.36 L1197.0 986.36 L1198.0 986.37 L1199.0 986.37 L1200.0 986.38 L1201.0 986.38 L1202.0 986.39 L1203.0 986.39 L1204.0 986.39 L1205.0 986.40 L1206.0 986.40 L1207.0 986.40 L1209.0 986.41 L1211.0 986.41 L1213.0 986.42 L1215.0 986.42 L1217.0 986.43 L1219.0 986.43 L1221.0 986.43 L1223.0 986.43 L1225.0 986.44 L1227.0 986.44 L1229.0 986.44 L1231.0 986.44 L1233.0 986.44 L1235.0 986.44 L1237.0 986.44 L1239.0 986.44 L1241.0 986.44 L1243.0 986.44 L1245.0 986.44 L1247.0 986.44 L1248.0 986.44 L1249.0 986.44 L1250.0 986.44 L1251.0 986.44 L1252.0 986.44 L1253.0 986.44 L1254.0 986.44 L1255.0 986.44 L1256.0 986.44 L1257.0 986.44 L1258.0 986.44 L1259.0 986.44 L1260.0 986.44 L1261.0 986.44 L1262.0 986.43 L1263.0 986.43 L1264.0 986.43 L1265.0 986.43 L1266.0 986.43 L1267.0 986.43 L1268.0 986.43 L1269.0 986.43 L1270.0 986.43 L1271.0 986.43 L1272.0 986.43 L1273.0 986.42 L1274.0 986.42 L1275.0 986.42 L1276.0 986.42 L1277.0 986.42 L1278.0 986.42 L1279.0 986.41 L1280.0 986.41 L1281.0 986.41 L1282.0 986.41 L1283.0 986.41 L1284.0 986.40 L1285.0 986.40 L1286.0 986.40 L1287.0 986.40 L1288.0 986.39 L1289.0 986.39 L1290.0 986.39 L1291.0 986.38 L1292.0 986.38 L1293.0 986.37 L1294.0 986.37 L1295.0 986.37 L1296.0 986.36 L1297.0 986.36 L1298.0 986.35 L1299.0 986.34 L1300.0 986.34 L1301.0 986.33 L1302.0 986.32 L1302.4 986.32 L1302.8 986.32 L1303.2 986.32 L1303.6 986.31 L1304.0 986.31 L1304.4 986.30 L1304.8 986.30 L1305.2 986.30 L1305.6 986.29 L1306.0 986.29 L1306.4 986.29 L1306.8 986.28 L1307.2 986.28 L1307.6 986.27 L1308.0 986.27 L1308.4 986.26 L1308.8 986.26 L1309.2 986.25 L1309.6 986.25 L1310.0 986.24 L1310.4 986.24 L1310.8 986.23 L1311.2 986.22 L1311.6 986.22 L1312.0 986.21 L1312.4 986.20 L1312.8 986.20 L1313.2 986.19 L1313.6 986.18 L1314.0 986.17 L1314.4 986.17 L1314.8 986.16 L1315.2 986.15 L1315.6 986.14 L1316.0 986.13 L1316.4 986.12 L1316.8 986.11 L1317.2 986.10 L1317.6 986.09 L1318.0 986.07 L1318.4 986.06 L1318.8 986.05 L1319.2 986.03 L1319.6 986.02 L1320.0 986.00 L1320.4 985.99 L1320.8 985.97 L1321.2 985.95 L1321.6 985.93 L1322.0 985.91 L1322.4 985.88 L1322.8 985.86 L1323.2 985.83 L1323.6 985.80 L1324.0 985.77 L1324.4 985.73 L1324.8 985.69 L1325.2 985.65 L1325.6 985.60 L1326.0 985.55 L1326.4 985.49 L1326.8 985.42 L1327.2 985.35 L1327.6 985.27 L1328.0 985.18 L1328.4 985.08 L1328.8 984.98 L1329.2 984.85 L1329.6 984.72 L1330.0 984.57 L1330.4 984.41 L1330.8 984.23 L1331.2 984.04 L1331.6 983.83 L1332.0 983.59 L1332.4 983.34 L1332.8 983.07 L1333.2 982.78 L1333.6 982.47 L1334.0 982.13 L1334.4 981.78 L1334.8 981.41 L1335.2 981.01 L1335.6 980.60 L1336.0 980.17 L1336.4 979.72 L1336.8 979.27 L1337.2 978.80 L1337.6 978.32 L1338.0 977.84 L1338.4 977.36 L1338.8 976.89 L1339.2 976.43 L1339.6 975.98 L1340.0 975.56 L1340.4 975.17 L1340.8 974.82 L1341.2 974.51 L1341.6 974.26 L1342.0 974.06 L1342.4 973.93 L1342.8 973.86 L1343.2 973.86 L1343.6 973.93 L1344.0 974.06 L1344.4 974.26 L1344.8 974.51 L1345.2 974.82 L1345.6 975.17 L1346.0 975.56 L1346.4 975.98 L1346.8 976.43 L1347.2 976.89 L1347.6 977.36 L1348.0 977.84 L1348.4 978.32 L1348.8 978.80 L1349.2 979.27 L1349.6 979.73 L1350.0 980.17 L1350.4 980.60 L1350.8 981.01 L1351.2 981.41 L1351.6 981.78 L1352.0 982.14 L1352.4 982.47 L1352.8 982.78 L1353.2 983.07 L1353.6 983.34 L1354.0 983.60 L1354.4 983.83 L1354.8 984.04 L1355.2 984.24 L1355.6 984.41 L1356.0 984.58 L1356.4 984.72 L1356.8 984.86 L1357.2 984.98 L1357.6 985.09 L1358.0 985.19 L1358.4 985.27 L1358.8 985.35 L1359.2 985.43 L1359.6 985.49 L1360.0 985.55 L1360.4 985.60 L1360.8 985.65 L1361.2 985.69 L1361.6 985.73 L1362.0 985.77 L1362.4 985.80 L1362.8 985.83 L1363.2 985.86 L1363.6 985.89 L1364.0 985.91 L1364.4 985.93 L1364.8 985.95 L1365.2 985.97 L1365.6 985.99 L1366.0 986.01 L1366.4 986.02 L1366.8 986.04 L1367.2 986.05 L1367.6 986.06 L1368.0 986.08 L1368.4 986.09 L1368.8 986.10 L1369.2 986.11 L1369.6 986.12 L1370.0 986.13 L1370.4 986.14 L1370.8 986.15 L1371.2 986.16 L1371.6 986.17 L1372.0 986.18 L1372.4 986.19 L1372.8 986.19 L1373.2 986.20 L1373.6 986.21 L1374.0 986.22 L1374.4 986.22 L1374.8 986.23 L1375.2 986.24 L1375.6 986.24 L1376.0 986.25 L1376.4 986.25 L1376.8 986.26 L1377.2 986.26 L1377.6 986.27 L1378.0 986.27 L1378.4 986.28 L1378.8 986.28 L1379.2 986.29 L1379.6 986.29 L1380.0 986.30 L1380.4 986.30 L1380.8 986.30 L1381.2 986.31 L1381.6 986.31 L1382.0 986.31 L1382.4 986.32 L1382.8 986.32 L1383.2 986.33 L1383.6 986.33 L1384.0 986.33 L1384.4 986.33 L1384.8 986.34 L1385.2 986.34 L1386.2 986.35 L1387.2 986.35 L1388.2 986.36 L1389.2 986.37 L1390.2 986.37 L1391.2 986.38 L1392.2 986.38 L1393.2 986.38 L1394.2 986.39 L1395.2 986.39 L1396.2 986.40 L1397.2 986.40 L1398.2 986.40 L1399.2 986.41 L1400.2 986.41 L1401.2 986.41 L1402.2 986.41 L1403.2 986.42 L1404.2 986.42 L1405.2 986.42 L1406.2 986.42 L1407.2 986.43 L1408.2 986.43 L1409.2 986.43 L1410.2 986.43 L1411.2 986.43 L1412.2 986.44 L1413.2 986.44 L1414.2 986.44 L1415.2 986.44 L1416.2 986.44 L1417.2 986.44 L1418.2 986.45 L1419.2 986.45 L1420.2 986.45 L1421.2 986.45 L1422.2 986.45 L1423.2 986.45 L1424.2 986.45 L1425.2 986.45 L1426.2 986.45 L1427.2 986.46 L1428.2 986.46 L1429.2 986.46 L1430.2 986.46 L1431.2 986.46 L1432.2 986.46 L1433.2 986.46 L1434.2 986.46 L1435.2 986.46 L1436.2 986.46 L1437.2 986.46 L1438.2 986.46 L1439.2 986.46 L1440.2 986.47 L1441.2 986.47 L1443.2 986.47 L1445.2 986.47 L1447.2 986.47 L1449.2 986.47 L1451.2 986.47 L1453.2 986.47 L1455.2 986.48 L1457.2 986.48 L1459.2 986.49 L1461.2 986.50 L1463.2 986.51 L1465.2 986.52 L1467.2 986.54 L1469.2 986.55 L1471.2 986.57 L1473.2 986.58 L1475.2 986.60 L1477.2 986.62 L1479.2 986.65 L1481.2 986.67 L1483.2 986.69 L1485.2 986.72 L1487.2 986.75 L1489.2 986.78 L1491.2 986.81 L1493.2 986.84 L1495.2 986.87 L1497.2 986.90 L1499.2 986.94 L1501.2 986.97 L1503.2 987.01 L1505.2 987.05 L1507.2 987.09 L1509.2 987.13 L1511.2 987.17 L1513.2 987.21 L1515.2 987.26 L1517.2 987.30 L1519.2 987.34 L1521.2 987.39 L1523.2 987.43 L1525.2 987.48 L1527.2 987.53 L1529.2 987.57 L1531.2 987.62 L1533.2 987.67 L1535.2 987.72 L1537.2 987.77 L1539.2 987.82 L1541.2 987.87 L1543.2 987.92 L1545.2 987.97 L1547.2 988.02 L1549.2 988.07 L1551.2 988.12 L1553.2 988.17 L1557.2 988.27 L1561.2 988.37 L1565.2 988.47 L1569.2 988.57 L1573.2 988.66 L1577.2 988.75 L1581.2 988.85 L1585.2 988.93 L1589.2 989.02 L1593.2 989.10 L1597.2 989.17 L1601.2 989.25 L1605.2 989.31 L1609.2 989.38 L1613.2 989.43 L1617.2 989.49 L1621.2 989.53 L1625.2 989.57 L1629.2 989.61 L1633.2 989.64 L1637.2 989.66 L1641.2 989.68 L1645.2 989.69 L1649.2 989.69 L1651.2 989.69" fill="none" stroke="#ff3c3c" stroke-width="6.3" stroke-linejoin="round" stroke-linecap="butt"/>
<path d="M102.8 833.38 L106.8 833.37 L110.8 833.37 L114.8 833.37 L118.8 833.36 L122.8 833.36 L126.8 833.35 L130.8 833.34 L134.8 833.33 L138.8 833.32 L142.8 833.31 L146.8 833.29 L148.8 833.29 L150.8 833.28 L152.8 833.27 L154.8 833.26 L156.8 833.25 L158.8 833.23 L160.8 833.22 L162.8 833.20 L164.8 833.19 L166.8 833.17 L168.8 833.14 L170.8 833.12 L172.8 833.08 L174.8 833.04 L175.8 833.02 L176.8 832.99 L177.8 832.96 L178.8 832.93 L179.8 832.89 L180.8 832.85 L181.8 832.80 L182.8 832.74 L183.8 832.67 L184.8 832.58 L185.8 832.48 L186.8 832.35 L187.8 832.19 L188.8 831.99 L189.2 831.89 L189.6 831.79 L190.0 831.67 L190.4 831.53 L190.8 831.38 L191.2 831.20 L191.6 831.00 L192.0 830.77 L192.4 830.50 L192.8 830.19 L193.2 829.83 L193.6 829.40 L194.0 828.88 L194.4 828.26 L194.8 827.50 L195.2 826.57 L195.6 825.40 L196.0 823.93 L196.4 822.06 L196.8 819.64 L197.2 816.50 L197.6 812.43 L198.0 807.26 L198.4 801.05 L198.8 794.42 L199.2 788.94 L199.6 786.75 L200.0 788.94 L200.4 794.41 L200.8 801.04 L201.2 807.25 L201.6 812.42 L202.0 816.48 L202.4 819.62 L202.8 822.04 L203.2 823.91 L203.6 825.38 L204.0 826.54 L204.4 827.47 L204.8 828.23 L205.2 828.85 L205.6 829.36 L206.0 829.79 L206.4 830.15 L206.8 830.46 L207.2 830.72 L207.6 830.95 L208.0 831.15 L208.4 831.32 L208.8 831.47 L209.2 831.61 L209.6 831.73 L210.0 831.83 L210.4 831.93 L211.4 832.12 L212.4 832.28 L213.4 832.40 L214.4 832.49 L215.4 832.57 L216.4 832.64 L217.4 832.69 L218.4 832.74 L219.4 832.77 L220.4 832.81 L221.4 832.83 L222.4 832.86 L223.4 832.88 L224.4 832.90 L225.4 832.91 L227.4 832.94 L229.4 832.96 L231.4 832.97 L233.4 832.98 L235.4 832.99 L237.4 833.00 L239.4 833.00 L241.4 833.00 L243.4 833.01 L245.4 833.01 L247.4 833.01 L249.4 833.01 L251.4 833.01 L253.4 833.01 L255.4 833.00 L259.4 833.00 L263.4 833.00 L267.4 832.99 L271.4 832.99 L275.4 832.98 L279.4 832.97 L283.4 832.97 L287.4 832.96 L291.4 832.96 L295.4 832.95 L299.4 832.95 L303.4 832.94 L307.4 832.94 L311.4 832.94 L315.4 832.93 L319.4 832.93 L323.4 832.92 L327.4 832.92 L331.4 832.91 L335.4 832.89 L339.4 832.88 L343.4 832.86 L347.4 832.84 L351.4 832.82 L355.4 832.79 L359.4 832.76 L361.4 832.74 L363.4 832.73 L365.4 832.70 L367.4 832.68 L369.4 832.66 L371.4 832.63 L373.4 832.60 L375.4 832.56 L377.4 832.52 L379.4 832.47 L381.4 832.42 L383.4 832.36 L385.4 832.29 L387.4 832.20 L389.4 832.10 L390.4 832.04 L391.4 831.97 L392.4 831.89 L393.4 831.80 L394.4 831.70 L395.4 831.59 L396.4 831.45 L397.4 831.30 L398.4 831.11 L399.4 830.89 L400.4 830.62 L401.4 830.29 L402.4 829.89 L403.4 829.37 L404.4 828.70 L404.8 828.37 L405.2 828.01 L405.6 827.59 L406.0 827.13 L406.4 826.59 L406.8 825.98 L407.2 825.27 L407.6 824.45 L408.0 823.48 L408.4 822.34 L408.8 820.99 L409.2 819.36 L409.6 817.39 L410.0 814.96 L410.4 811.96 L410.8 808.19 L411.2 803.40 L411.6 797.28 L412.0 789.39 L412.4 779.23 L412.8 766.38 L413.2 750.83 L413.6 733.83 L414.0 718.77 L414.4 710.81 L414.8 713.58 L415.2 725.74 L415.6 742.34 L416.0 758.88 L416.4 773.13 L416.8 784.59 L417.2 793.54 L417.6 800.48 L418.0 805.88 L418.4 810.12 L418.8 813.47 L419.2 816.16 L419.6 818.34 L420.0 820.12 L420.4 821.60 L420.8 822.83 L421.2 823.87 L421.6 824.75 L422.0 825.51 L422.4 826.16 L422.8 826.73 L423.2 827.22 L423.6 827.65 L424.0 828.03 L424.4 828.37 L424.8 828.67 L425.2 828.94 L425.6 829.18 L426.6 829.68 L427.6 830.07 L428.6 830.38 L429.6 830.63 L430.6 830.83 L431.6 830.99 L432.6 831.13 L433.6 831.24 L434.6 831.34 L435.6 831.42 L436.6 831.48 L437.6 831.53 L438.6 831.58 L439.6 831.61 L440.6 831.64 L442.6 831.68 L444.6 831.69 L446.6 831.69 L448.6 831.65 L449.6 831.63 L450.6 831.60 L451.6 831.56 L452.6 831.51 L453.6 831.45 L454.6 831.38 L455.6 831.29 L456.6 831.19 L457.6 831.06 L458.6 830.91 L459.6 830.71 L460.6 830.47 L461.6 830.17 L462.6 829.77 L463.0 829.58 L463.4 829.36 L463.8 829.12 L464.2 828.84 L464.6 828.53 L465.0 828.17 L465.4 827.76 L465.8 827.28 L466.2 826.73 L466.6 826.08 L467.0 825.30 L467.4 824.38 L467.8 823.27 L468.2 821.92 L468.6 820.25 L469.0 818.18 L469.4 815.58 L469.8 812.26 L470.2 808.01 L470.6 802.53 L471.0 795.49 L471.4 786.64 L471.8 776.14 L472.2 765.10 L472.6 756.11 L473.0 752.55 L473.4 756.11 L473.8 765.10 L474.2 776.14 L474.6 786.64 L475.0 795.48 L475.4 802.52 L475.8 808.01 L476.2 812.26 L476.6 815.57 L477.0 818.18 L477.4 820.25 L477.8 821.91 L478.2 823.27 L478.6 824.38 L479.0 825.30 L479.4 826.07 L479.8 826.72 L480.2 827.28 L480.6 827.76 L481.0 828.17 L481.4 828.53 L481.8 828.84 L482.2 829.11 L482.6 829.36 L483.0 829.57 L483.4 829.77 L483.8 829.94 L484.2 830.09 L485.2 830.42 L486.2 830.67 L487.2 830.87 L488.2 831.04 L489.2 831.17 L490.2 831.29 L491.2 831.38 L492.2 831.46 L493.2 831.53 L494.2 831.59 L495.2 831.64 L496.2 831.68 L497.2 831.72 L498.2 831.76 L499.2 831.79 L501.2 831.84 L503.2 831.88 L505.2 831.91 L507.2 831.94 L509.2 831.96 L511.2 831.98 L513.2 831.99 L515.2 832.00 L517.2 832.02 L519.2 832.03 L521.2 832.03 L523.2 832.04 L525.2 832.05 L527.2 832.05 L529.2 832.06 L531.2 832.06 L533.2 832.07 L535.2 832.07 L537.2 832.07 L539.2 832.08 L541.2 832.08 L543.2 832.08 L545.2 832.08 L547.2 832.08 L549.2 832.08 L551.2 832.08 L553.2 832.08 L555.2 832.07 L557.2 832.07 L558.2 832.07 L559.2 832.07 L560.2 832.06 L561.2 832.06 L562.2 832.06 L563.2 832.05 L564.2 832.05 L565.2 832.04 L566.2 832.04 L567.2 832.03 L568.2 832.02 L569.2 832.02 L570.2 832.01 L571.2 832.00 L572.2 831.99 L573.2 831.98 L574.2 831.96 L575.2 831.95 L576.2 831.93 L577.2 831.91 L578.2 831.89 L579.2 831.86 L580.2 831.83 L581.2 831.80 L581.6 831.78 L582.0 831.77 L582.4 831.75 L582.8 831.73 L583.2 831.71 L583.6 831.69 L584.0 831.66 L584.4 831.64 L584.8 831.61 L585.2 831.58 L585.6 831.55 L586.0 831.51 L586.4 831.47 L586.8 831.43 L587.2 831.38 L587.6 831.33 L588.0 831.27 L588.4 831.20 L588.8 831.12 L589.2 831.03 L589.6 830.92 L590.0 830.79 L590.4 830.63 L590.8 830.42 L591.2 830.17 L591.6 829.84 L592.0 829.43 L592.4 828.90 L592.8 828.24 L593.2 827.41 L593.6 826.41 L594.0 825.20 L594.4 823.78 L594.8 822.15 L595.2 820.33 L595.6 818.36 L596.0 816.29 L596.4 814.22 L596.8 812.26 L597.2 810.57 L597.6 809.31 L598.0 808.64 L598.4 808.64 L598.8 809.31 L599.2 810.57 L599.6 812.26 L600.0 814.21 L600.4 816.28 L600.8 818.35 L601.2 820.32 L601.6 822.14 L602.0 823.77 L602.4 825.18 L602.8 826.39 L603.2 827.40 L603.6 828.22 L604.0 828.88 L604.4 829.41 L604.8 829.82 L605.2 830.15 L605.6 830.40 L606.0 830.60 L606.4 830.76 L606.8 830.89 L607.2 831.00 L607.6 831.09 L608.0 831.17 L608.4 831.24 L608.8 831.30 L609.2 831.35 L609.6 831.40 L610.0 831.44 L610.4 831.48 L610.8 831.51 L611.2 831.54 L611.6 831.57 L612.0 831.60 L612.4 831.63 L612.8 831.65 L613.2 831.67 L613.6 831.69 L614.0 831.71 L614.4 831.72 L614.8 831.74 L615.2 831.75 L615.6 831.77 L616.0 831.78 L616.4 831.79 L617.4 831.82 L618.4 831.84 L619.4 831.86 L620.4 831.87 L621.4 831.89 L622.4 831.90 L623.4 831.91 L624.4 831.92 L625.4 831.93 L626.4 831.94 L627.4 831.94 L628.4 831.95 L629.4 831.95 L630.4 831.96 L631.4 831.96 L632.4 831.96 L633.4 831.97 L634.4 831.97 L635.4 831.97 L636.4 831.97 L637.4 831.97 L638.4 831.98 L639.4 831.98 L640.4 831.98 L642.4 831.98 L644.4 831.98 L646.4 831.98 L648.4 831.98 L650.4 831.98 L652.4 831.98 L654.4 831.98 L656.4 831.98 L658.4 831.98 L660.4 831.98 L662.4 831.98 L664.4 831.98 L666.4 831.97 L668.4 831.97 L670.4 831.97 L672.4 831.97 L674.4 831.97 L676.4 831.97 L678.4 831.97 L680.4 831.97 L682.4 831.97 L684.4 831.97 L686.4 831.97 L688.4 831.97 L692.4 831.96 L696.4 831.96 L700.4 831.96 L704.4 831.96 L708.4 831.96 L712.4 831.96 L716.4 831.96 L720.4 831.96 L724.4 831.96 L728.4 831.96 L732.4 831.96 L736.4 831.96 L740.4 831.96 L744.4 831.96 L748.4 831.95 L752.4 831.95 L754.4 831.95 L756.4 831.94 L758.4 831.94 L760.4 831.93 L762.4 831.93 L764.4 831.92 L766.4 831.92 L768.4 831.91 L770.4 831.90 L772.4 831.89 L774.4 831.87 L776.4 831.86 L778.4 831.83 L779.4 831.82 L780.4 831.80 L781.4 831.79 L782.4 831.77 L783.4 831.74 L784.4 831.71 L785.4 831.68 L786.4 831.64 L787.4 831.60 L788.4 831.54 L789.4 831.47 L790.4 831.39 L791.4 831.28 L792.4 831.14 L792.8 831.07 L793.2 830.99 L793.6 830.91 L794.0 830.81 L794.4 830.70 L794.8 830.57 L795.2 830.42 L795.6 830.26 L796.0 830.06 L796.4 829.83 L796.8 829.55 L797.2 829.22 L797.6 828.83 L798.0 828.34 L798.4 827.75 L798.8 827.01 L799.2 826.07 L799.6 824.87 L800.0 823.33 L800.4 821.33 L800.8 818.73 L801.2 815.44 L801.6 811.47 L802.0 807.24 L802.4 803.75 L802.8 802.35 L803.2 803.75 L803.6 807.24 L804.0 811.47 L804.4 815.44 L804.8 818.73 L805.2 821.33 L805.6 823.33 L806.0 824.88 L806.4 826.07 L806.8 827.01 L807.2 827.75 L807.6 828.35 L808.0 828.83 L808.4 829.23 L808.8 829.56 L809.2 829.83 L809.6 830.06 L810.0 830.26 L810.4 830.43 L810.8 830.58 L811.2 830.70 L811.6 830.81 L812.0 830.91 L812.4 831.00 L812.8 831.07 L813.2 831.14 L813.6 831.20 L814.6 831.33 L815.6 831.43 L816.6 831.51 L817.6 831.57 L818.6 831.63 L819.6 831.67 L820.6 831.71 L821.6 831.74 L822.6 831.76 L823.6 831.79 L824.6 831.81 L825.6 831.82 L826.6 831.84 L827.6 831.85 L828.6 831.87 L830.6 831.89 L832.6 831.90 L834.6 831.92 L836.6 831.93 L838.6 831.94 L840.6 831.94 L842.6 831.95 L844.6 831.95 L846.6 831.96 L848.6 831.96 L850.6 831.97 L852.6 831.97 L854.6 831.97 L856.6 831.97 L858.6 831.97 L860.6 831.97 L862.6 831.97 L864.6 831.97 L866.6 831.97 L868.6 831.97 L870.6 831.97 L872.6 831.96 L874.6 831.96 L876.6 831.95 L878.6 831.94 L880.6 831.93 L882.6 831.92 L884.6 831.90 L886.6 831.88 L888.6 831.85 L889.6 831.84 L890.6 831.82 L891.6 831.80 L892.6 831.77 L893.6 831.74 L894.6 831.71 L895.6 831.67 L896.6 831.62 L897.6 831.56 L898.6 831.49 L899.6 831.41 L900.6 831.30 L901.6 831.16 L902.6 830.98 L903.0 830.89 L903.4 830.79 L903.8 830.68 L904.2 830.56 L904.6 830.41 L905.0 830.24 L905.4 830.05 L905.8 829.83 L906.2 829.57 L906.6 829.26 L907.0 828.89 L907.4 828.44 L907.8 827.90 L908.2 827.23 L908.6 826.40 L909.0 825.36 L909.4 824.03 L909.8 822.32 L910.2 820.11 L910.6 817.23 L911.0 813.56 L911.4 809.05 L911.8 804.05 L912.2 799.56 L912.6 797.16 L913.0 798.00 L913.4 801.65 L913.8 806.57 L914.2 811.40 L914.6 815.50 L915.0 818.77 L915.4 821.29 L915.8 823.24 L916.2 824.74 L916.6 825.92 L917.0 826.84 L917.4 827.59 L917.8 828.19 L918.2 828.68 L918.6 829.08 L919.0 829.42 L919.4 829.71 L919.8 829.95 L920.2 830.16 L920.6 830.34 L921.0 830.49 L921.4 830.63 L921.8 830.75 L922.2 830.85 L922.6 830.95 L923.0 831.03 L923.4 831.10 L923.8 831.17 L924.8 831.31 L925.8 831.42 L926.8 831.51 L927.8 831.58 L928.8 831.64 L929.8 831.68 L930.8 831.72 L931.8 831.76 L932.8 831.79 L933.8 831.81 L934.8 831.84 L935.8 831.86 L936.8 831.87 L937.8 831.89 L938.8 831.90 L939.8 831.91 L940.8 831.92 L941.8 831.93 L942.8 831.94 L943.8 831.94 L944.8 831.95 L945.8 831.96 L946.8 831.96 L947.8 831.96 L948.8 831.97 L949.8 831.97 L950.8 831.97 L951.8 831.97 L952.8 831.98 L953.8 831.98 L954.8 831.98 L955.8 831.98 L956.8 831.98 L957.8 831.98 L958.8 831.97 L959.8 831.97 L960.8 831.97 L961.8 831.97 L962.8 831.96 L963.8 831.96 L964.8 831.95 L965.8 831.95 L966.8 831.94 L967.8 831.93 L968.2 831.93 L968.6 831.93 L969.0 831.92 L969.4 831.92 L969.8 831.91 L970.2 831.91 L970.6 831.90 L971.0 831.90 L971.4 831.89 L971.8 831.89 L972.2 831.88 L972.6 831.88 L973.0 831.87 L973.4 831.86 L973.8 831.86 L974.2 831.85 L974.6 831.84 L975.0 831.83 L975.4 831.82 L975.8 831.81 L976.2 831.80 L976.6 831.79 L977.0 831.78 L977.4 831.77 L977.8 831.76 L978.2 831.74 L978.6 831.73 L979.0 831.72 L979.4 831.70 L979.8 831.68 L980.2 831.66 L980.6 831.64 L981.0 831.62 L981.4 831.60 L981.8 831.57 L982.2 831.55 L982.6 831.52 L983.0 831.48 L983.4 831.44 L983.8 831.40 L984.2 831.35 L984.6 831.30 L985.0 831.24 L985.4 831.17 L985.8 831.08 L986.2 830.99 L986.6 830.88 L987.0 830.75 L987.4 830.60 L987.8 830.43 L988.2 830.23 L988.6 830.01 L989.0 829.75 L989.4 829.45 L989.8 829.12 L990.2 828.75 L990.6 828.34 L991.0 827.89 L991.4 827.39 L991.8 826.85 L992.2 826.27 L992.6 825.65 L993.0 825.00 L993.4 824.32 L993.8 823.62 L994.2 822.92 L994.6 822.22 L995.0 821.53 L995.4 820.89 L995.8 820.30 L996.2 819.78 L996.6 819.37 L997.0 819.06 L997.4 818.89 L997.8 818.85 L998.2 818.96 L998.6 819.20 L999.0 819.56 L999.4 820.03 L999.8 820.59 L1000.2 821.21 L1000.6 821.88 L1001.0 822.57 L1001.4 823.28 L1001.8 823.98 L1002.2 824.67 L1002.6 825.34 L1003.0 825.97 L1003.4 826.57 L1003.8 827.14 L1004.2 827.66 L1004.6 828.13 L1005.0 828.57 L1005.4 828.96 L1005.8 829.31 L1006.2 829.62 L1006.6 829.90 L1007.0 830.14 L1007.4 830.35 L1007.8 830.54 L1008.2 830.70 L1008.6 830.84 L1009.0 830.96 L1009.4 831.06 L1009.8 831.15 L1010.2 831.23 L1010.6 831.30 L1011.0 831.36 L1011.4 831.41 L1011.8 831.45 L1012.2 831.49 L1012.6 831.53 L1013.0 831.56 L1013.4 831.59 L1013.8 831.62 L1014.2 831.65 L1014.6 831.67 L1015.0 831.69 L1015.4 831.71 L1015.8 831.73 L1016.2 831.75 L1016.6 831.76 L1017.0 831.78 L1017.4 831.79 L1017.8 831.81 L1018.2 831.82 L1018.6 831.83 L1019.0 831.84 L1019.4 831.85 L1019.8 831.86 L1020.2 831.87 L1020.6 831.88 L1021.0 831.89 L1021.4 831.90 L1021.8 831.91 L1022.2 831.92 L1022.6 831.93 L1023.0 831.93 L1023.4 831.94 L1023.8 831.95 L1024.2 831.95 L1024.6 831.96 L1025.0 831.96 L1025.4 831.97 L1025.8 831.98 L1026.2 831.98 L1026.6 831.99 L1027.0 831.99 L1027.4 832.00 L1027.8 832.00 L1028.8 832.01 L1029.8 832.02 L1030.8 832.03 L1031.8 832.04 L1032.8 832.04 L1033.8 832.05 L1034.8 832.06 L1035.8 832.06 L1036.8 832.07 L1037.8 832.07 L1038.8 832.08 L1039.8 832.08 L1040.8 832.08 L1041.8 832.09 L1042.8 832.09 L1043.8 832.09 L1044.8 832.10 L1045.8 832.10 L1046.8 832.10 L1047.8 832.10 L1048.8 832.10 L1049.8 832.11 L1050.8 832.11 L1051.8 832.11 L1052.8 832.11 L1053.8 832.11 L1054.8 832.11 L1055.8 832.11 L1056.8 832.11 L1057.8 832.11 L1058.8 832.11 L1059.8 832.11 L1060.8 832.11 L1061.8 832.11 L1062.8 832.11 L1063.8 832.11 L1064.8 832.11 L1065.8 832.11 L1066.8 832.11 L1067.8 832.10 L1068.8 832.10 L1069.8 832.10 L1070.8 832.10 L1071.8 832.09 L1072.8 832.09 L1073.8 832.09 L1074.8 832.08 L1075.8 832.08 L1076.8 832.07 L1077.8 832.07 L1078.8 832.06 L1079.8 832.05 L1080.8 832.05 L1081.8 832.04 L1082.8 832.03 L1083.8 832.01 L1084.8 832.00 L1085.8 831.99 L1086.8 831.97 L1087.8 831.95 L1088.8 831.93 L1089.8 831.91 L1090.2 831.90 L1090.6 831.89 L1091.0 831.88 L1091.4 831.87 L1091.8 831.85 L1092.2 831.84 L1092.6 831.82 L1093.0 831.81 L1093.4 831.79 L1093.8 831.77 L1094.2 831.76 L1094.6 831.74 L1095.0 831.71 L1095.4 831.69 L1095.8 831.67 L1096.2 831.64 L1096.6 831.61 L1097.0 831.58 L1097.4 831.55 L1097.8 831.51 L1098.2 831.47 L1098.6 831.43 L1099.0 831.38 L1099.4 831.33 L1099.8 831.27 L1100.2 831.21 L1100.6 831.13 L1101.0 831.05 L1101.4 830.94 L1101.8 830.82 L1102.2 830.68 L1102.6 830.50 L1103.0 830.29 L1103.4 830.04 L1103.8 829.72 L1104.2 829.34 L1104.6 828.88 L1105.0 828.33 L1105.4 827.67 L1105.8 826.90 L1106.2 826.01 L1106.6 824.99 L1107.0 823.84 L1107.4 822.56 L1107.8 821.17 L1108.2 819.68 L1108.6 818.13 L1109.0 816.55 L1109.4 814.99 L1109.8 813.53 L1110.2 812.24 L1110.6 811.19 L1111.0 810.48 L1111.4 810.16 L1111.8 810.27 L1112.2 810.79 L1112.6 811.67 L1113.0 812.85 L1113.4 814.23 L1113.8 815.75 L1114.2 817.32 L1114.6 818.89 L1115.0 820.41 L1115.4 821.85 L1115.8 823.18 L1116.2 824.40 L1116.6 825.48 L1117.0 826.44 L1117.4 827.26 L1117.8 827.97 L1118.2 828.57 L1118.6 829.07 L1119.0 829.49 L1119.4 829.83 L1119.8 830.11 L1120.2 830.34 L1120.6 830.53 L1121.0 830.68 L1121.4 830.81 L1121.8 830.92 L1122.2 831.01 L1122.6 831.08 L1123.0 831.15 L1123.4 831.20 L1123.8 831.25 L1124.2 831.30 L1124.6 831.34 L1125.0 831.37 L1125.4 831.40 L1125.8 831.43 L1126.2 831.45 L1126.6 831.48 L1127.0 831.50 L1127.4 831.51 L1127.8 831.53 L1128.2 831.54 L1128.6 831.55 L1129.0 831.56 L1129.4 831.57 L1129.8 831.57 L1130.2 831.57 L1130.6 831.57 L1131.0 831.57 L1131.4 831.57 L1131.8 831.57 L1132.2 831.56 L1132.6 831.55 L1133.0 831.54 L1133.4 831.53 L1133.8 831.51 L1134.2 831.50 L1134.6 831.48 L1135.0 831.45 L1135.4 831.43 L1135.8 831.39 L1136.2 831.36 L1136.6 831.32 L1137.0 831.27 L1137.4 831.22 L1137.8 831.15 L1138.2 831.08 L1138.6 830.99 L1139.0 830.88 L1139.4 830.74 L1139.8 830.57 L1140.2 830.36 L1140.6 830.09 L1141.0 829.75 L1141.4 829.33 L1141.8 828.80 L1142.2 828.15 L1142.6 827.36 L1143.0 826.42 L1143.4 825.32 L1143.8 824.06 L1144.2 822.64 L1144.6 821.09 L1145.0 819.44 L1145.4 817.75 L1145.8 816.08 L1146.2 814.52 L1146.6 813.20 L1147.0 812.23 L1147.4 811.72 L1147.8 811.72 L1148.2 812.24 L1148.6 813.22 L1149.0 814.54 L1149.4 816.10 L1149.8 817.77 L1150.2 819.47 L1150.6 821.13 L1151.0 822.68 L1151.4 824.10 L1151.8 825.37 L1152.2 826.48 L1152.6 827.42 L1153.0 828.22 L1153.4 828.87 L1153.8 829.41 L1154.2 829.84 L1154.6 830.18 L1155.0 830.46 L1155.4 830.68 L1155.8 830.85 L1156.2 830.99 L1156.6 831.11 L1157.0 831.21 L1157.4 831.29 L1157.8 831.36 L1158.2 831.42 L1158.6 831.48 L1159.0 831.53 L1159.4 831.57 L1159.8 831.61 L1160.2 831.64 L1160.6 831.68 L1161.0 831.71 L1161.4 831.74 L1161.8 831.76 L1162.2 831.79 L1162.6 831.81 L1163.0 831.83 L1163.4 831.85 L1163.8 831.87 L1164.2 831.88 L1164.6 831.90 L1165.0 831.91 L1165.4 831.93 L1165.8 831.94 L1166.2 831.95 L1166.6 831.96 L1167.0 831.97 L1168.0 832.00 L1169.0 832.02 L1170.0 832.04 L1171.0 832.06 L1172.0 832.07 L1173.0 832.08 L1174.0 832.10 L1175.0 832.11 L1176.0 832.12 L1177.0 832.12 L1178.0 832.13 L1179.0 832.14 L1180.0 832.15 L1181.0 832.15 L1182.0 832.16 L1183.0 832.16 L1184.0 832.17 L1185.0 832.17 L1186.0 832.18 L1187.0 832.18 L1188.0 832.18 L1189.0 832.19 L1190.0 832.19 L1191.0 832.19 L1192.0 832.20 L1193.0 832.20 L1195.0 832.20 L1197.0 832.21 L1199.0 832.21 L1201.0 832.21 L1202.0 832.22 L1203.0 832.22 L1204.0 832.22 L1205.0 832.22 L1206.0 832.22 L1207.0 832.22 L1208.0 832.22 L1209.0 832.22 L1210.0 832.22 L1211.0 832.22 L1212.0 832.22 L1213.0 832.23 L1214.0 832.23 L1215.0 832.23 L1216.0 832.23 L1217.0 832.23 L1218.0 832.23 L1219.0 832.23 L1220.0 832.23 L1221.0 832.23 L1222.0 832.23 L1223.0 832.23 L1224.0 832.23 L1225.0 832.23 L1226.0 832.23 L1227.0 832.23 L1228.0 832.23 L1229.0 832.23 L1230.0 832.23 L1231.0 832.23 L1232.0 832.23 L1233.0 832.23 L1234.0 832.23 L1235.0 832.23 L1236.0 832.23 L1237.0 832.23 L1238.0 832.23 L1239.0 832.23 L1240.0 832.23 L1241.0 832.23 L1242.0 832.23 L1243.0 832.23 L1244.0 832.23 L1245.0 832.23 L1246.0 832.23 L1247.0 832.23 L1248.0 832.24 L1249.0 832.24 L1250.0 832.24 L1251.0 832.24 L1252.0 832.24 L1253.0 832.24 L1254.0 832.24 L1255.0 832.24 L1256.0 832.25 L1257.0 832.25 L1258.0 832.25 L1259.0 832.25 L1260.0 832.25 L1261.0 832.25 L1262.0 832.25 L1263.0 832.26 L1264.0 832.26 L1265.0 832.26 L1266.0 832.26 L1267.0 832.26 L1268.0 832.26 L1269.0 832.27 L1270.0 832.27 L1271.0 832.27 L1272.0 832.27 L1273.0 832.27 L1274.0 832.27 L1275.0 832.27 L1276.0 832.28 L1277.0 832.28 L1278.0 832.28 L1279.0 832.28 L1280.0 832.28 L1281.0 832.28 L1281.4 832.28 L1281.8 832.28 L1282.2 832.28 L1282.6 832.28 L1283.0 832.28 L1283.4 832.28 L1283.8 832.28 L1284.2 832.28 L1284.6 832.28 L1285.0 832.28 L1285.4 832.28 L1285.8 832.28 L1286.2 832.28 L1286.6 832.28 L1287.0 832.28 L1287.4 832.28 L1287.8 832.28 L1288.2 832.28 L1288.6 832.28 L1289.0 832.28 L1289.4 832.28 L1289.8 832.28 L1290.2 832.28 L1290.6 832.28 L1291.0 832.28 L1291.4 832.28 L1291.8 832.28 L1292.2 832.27 L1292.6 832.27 L1293.0 832.27 L1293.4 832.27 L1293.8 832.27 L1294.2 832.27 L1294.6 832.27 L1295.0 832.27 L1295.4 832.26 L1295.8 832.26 L1296.2 832.26 L1296.6 832.26 L1297.0 832.26 L1297.4 832.26 L1297.8 832.25 L1298.2 832.25 L1298.6 832.25 L1299.0 832.25 L1299.4 832.24 L1299.8 832.24 L1300.2 832.24 L1300.6 832.24 L1301.0 832.23 L1301.4 832.23 L1301.8 832.23 L1302.2 832.22 L1302.6 832.22 L1303.0 832.21 L1303.4 832.21 L1303.8 832.20 L1304.2 832.20 L1304.6 832.20 L1305.0 832.19 L1305.4 832.18 L1305.8 832.18 L1306.2 832.17 L1306.6 832.17 L1307.0 832.16 L1307.4 832.15 L1307.8 832.14 L1308.2 832.14 L1308.6 832.13 L1309.0 832.12 L1309.4 832.11 L1309.8 832.10 L1310.2 832.09 L1310.6 832.08 L1311.0 832.07 L1311.4 832.05 L1311.8 832.04 L1312.2 832.03 L1312.6 832.01 L1313.0 831.99 L1313.4 831.98 L1313.8 831.96 L1314.2 831.94 L1314.6 831.91 L1315.0 831.89 L1315.4 831.86 L1315.8 831.84 L1316.2 831.81 L1316.6 831.77 L1317.0 831.74 L1317.4 831.70 L1317.8 831.66 L1318.2 831.61 L1318.6 831.57 L1319.0 831.51 L1319.4 831.46 L1319.8 831.40 L1320.2 831.33 L1320.6 831.26 L1321.0 831.19 L1321.4 831.10 L1321.8 831.02 L1322.2 830.92 L1322.6 830.82 L1323.0 830.71 L1323.4 830.60 L1323.8 830.47 L1324.2 830.34 L1324.6 830.20 L1325.0 830.06 L1325.4 829.90 L1325.8 829.73 L1326.2 829.56 L1326.6 829.37 L1327.0 829.18 L1327.4 828.97 L1327.8 828.76 L1328.2 828.54 L1328.6 828.31 L1329.0 828.06 L1329.4 827.81 L1329.8 827.55 L1330.2 827.29 L1330.6 827.01 L1331.0 826.73 L1331.4 826.44 L1331.8 826.14 L1332.2 825.84 L1332.6 825.54 L1333.0 825.23 L1333.4 824.92 L1333.8 824.61 L1334.2 824.30 L1334.6 823.99 L1335.0 823.69 L1335.4 823.39 L1335.8 823.10 L1336.2 822.83 L1336.6 822.56 L1337.0 822.31 L1337.4 822.07 L1337.8 821.86 L1338.2 821.66 L1338.6 821.49 L1339.0 821.35 L1339.4 821.23 L1339.8 821.14 L1340.2 821.08 L1340.6 821.05 L1341.0 821.06 L1341.4 821.09 L1341.8 821.16 L1342.2 821.25 L1342.6 821.37 L1343.0 821.53 L1343.4 821.70 L1343.8 821.90 L1344.2 822.13 L1344.6 822.37 L1345.0 822.63 L1345.4 822.90 L1345.8 823.18 L1346.2 823.48 L1346.6 823.78 L1347.0 824.09 L1347.4 824.40 L1347.8 824.72 L1348.2 825.04 L1348.6 825.35 L1349.0 825.67 L1349.4 825.98 L1349.8 826.28 L1350.2 826.59 L1350.6 826.88 L1351.0 827.17 L1351.4 827.45 L1351.8 827.73 L1352.2 827.99 L1352.6 828.25 L1353.0 828.50 L1353.4 828.74 L1353.8 828.97 L1354.2 829.18 L1354.6 829.39 L1355.0 829.60 L1355.4 829.79 L1355.8 829.97 L1356.2 830.14 L1356.6 830.30 L1357.0 830.46 L1357.4 830.60 L1357.8 830.74 L1358.2 830.87 L1358.6 830.99 L1359.0 831.11 L1359.4 831.21 L1359.8 831.31 L1360.2 831.41 L1360.6 831.49 L1361.0 831.58 L1361.4 831.65 L1361.8 831.72 L1362.2 831.79 L1362.6 831.85 L1363.0 831.91 L1363.4 831.97 L1363.8 832.02 L1364.2 832.06 L1364.6 832.11 L1365.0 832.15 L1365.4 832.19 L1365.8 832.22 L1366.2 832.26 L1366.6 832.29 L1367.0 832.32 L1367.4 832.35 L1367.8 832.37 L1368.2 832.40 L1368.6 832.42 L1369.0 832.45 L1369.4 832.47 L1369.8 832.49 L1370.2 832.51 L1370.6 832.52 L1371.0 832.54 L1371.4 832.56 L1371.8 832.58 L1372.2 832.59 L1372.6 832.61 L1373.0 832.62 L1373.4 832.64 L1373.8 832.65 L1374.2 832.66 L1374.6 832.67 L1375.0 832.69 L1375.4 832.70 L1375.8 832.71 L1376.2 832.72 L1376.6 832.73 L1377.0 832.74 L1377.4 832.75 L1377.8 832.76 L1378.2 832.77 L1378.6 832.78 L1379.0 832.79 L1379.4 832.80 L1379.8 832.81 L1380.2 832.82 L1380.6 832.83 L1381.0 832.84 L1381.4 832.85 L1381.8 832.85 L1382.2 832.86 L1382.6 832.87 L1383.0 832.88 L1383.4 832.89 L1383.8 832.89 L1384.2 832.90 L1384.6 832.91 L1385.0 832.91 L1385.4 832.92 L1385.8 832.93 L1386.2 832.94 L1386.6 832.94 L1387.0 832.95 L1387.4 832.95 L1387.8 832.96 L1388.2 832.97 L1388.6 832.97 L1389.0 832.98 L1389.4 832.98 L1389.8 832.99 L1390.2 833.00 L1390.6 833.00 L1391.0 833.01 L1391.4 833.01 L1391.8 833.02 L1392.2 833.02 L1392.6 833.03 L1393.0 833.03 L1393.4 833.04 L1393.8 833.04 L1394.2 833.05 L1394.6 833.05 L1395.0 833.06 L1395.4 833.06 L1395.8 833.07 L1396.2 833.07 L1396.6 833.08 L1397.0 833.08 L1397.4 833.09 L1397.8 833.09 L1398.2 833.09 L1398.6 833.10 L1399.0 833.10 L1399.4 833.11 L1399.8 833.11 L1400.2 833.11 L1400.6 833.12 L1401.0 833.12 L1402.0 833.13 L1403.0 833.14 L1404.0 833.15 L1405.0 833.16 L1406.0 833.17 L1407.0 833.18 L1408.0 833.18 L1409.0 833.19 L1410.0 833.20 L1411.0 833.21 L1412.0 833.21 L1413.0 833.22 L1414.0 833.23 L1415.0 833.23 L1416.0 833.24 L1417.0 833.24 L1418.0 833.25 L1419.0 833.26 L1420.0 833.26 L1421.0 833.27 L1422.0 833.27 L1423.0 833.28 L1424.0 833.28 L1425.0 833.29 L1426.0 833.29 L1427.0 833.30 L1428.0 833.30 L1429.0 833.30 L1430.0 833.31 L1431.0 833.31 L1432.0 833.31 L1433.0 833.32 L1434.0 833.32 L1435.0 833.32 L1436.0 833.33 L1437.0 833.33 L1438.0 833.33 L1439.0 833.33 L1440.0 833.34 L1441.0 833.34 L1442.0 833.34 L1443.0 833.34 L1444.0 833.34 L1445.0 833.35 L1446.0 833.35 L1447.0 833.35 L1448.0 833.35 L1449.0 833.35 L1450.0 833.35 L1451.0 833.35 L1452.0 833.35 L1453.0 833.36 L1454.0 833.36 L1455.0 833.36 L1456.0 833.36 L1457.0 833.36 L1458.0 833.37 L1459.0 833.37 L1460.0 833.37 L1461.0 833.38 L1462.0 833.38 L1463.0 833.39 L1464.0 833.39 L1465.0 833.40 L1466.0 833.40 L1467.0 833.41 L1468.0 833.41 L1469.0 833.42 L1470.0 833.43 L1471.0 833.43 L1472.0 833.44 L1473.0 833.45 L1474.0 833.45 L1475.0 833.46 L1476.0 833.47 L1477.0 833.48 L1478.0 833.49 L1479.0 833.50 L1480.0 833.51 L1481.0 833.51 L1483.0 833.53 L1485.0 833.55 L1487.0 833.58 L1489.0 833.60 L1491.0 833.62 L1493.0 833.65 L1495.0 833.67 L1497.0 833.70 L1499.0 833.73 L1501.0 833.76 L1503.0 833.79 L1505.0 833.82 L1507.0 833.85 L1509.0 833.88 L1511.0 833.91 L1513.0 833.94 L1515.0 833.98 L1517.0 834.01 L1519.0 834.05 L1521.0 834.08 L1523.0 834.12 L1525.0 834.15 L1527.0 834.19 L1529.0 834.23 L1531.0 834.26 L1533.0 834.30 L1535.0 834.34 L1537.0 834.38 L1539.0 834.42 L1541.0 834.46 L1543.0 834.50 L1545.0 834.54 L1547.0 834.58 L1549.0 834.62 L1551.0 834.65 L1553.0 834.69 L1555.0 834.73 L1557.0 834.77 L1559.0 834.81 L1561.0 834.85 L1563.0 834.89 L1565.0 834.93 L1567.0 834.97 L1569.0 835.00 L1571.0 835.04 L1573.0 835.08 L1575.0 835.12 L1577.0 835.15 L1579.0 835.19 L1581.0 835.22 L1583.0 835.26 L1585.0 835.29 L1587.0 835.32 L1589.0 835.36 L1591.0 835.39 L1593.0 835.42 L1595.0 835.45 L1597.0 835.48 L1599.0 835.51 L1601.0 835.54 L1603.0 835.56 L1605.0 835.59 L1607.0 835.62 L1609.0 835.64 L1611.0 835.66 L1613.0 835.69 L1615.0 835.71 L1617.0 835.73 L1619.0 835.75 L1621.0 835.76 L1623.0 835.78 L1625.0 835.80 L1627.0 835.81 L1629.0 835.82 L1631.0 835.84 L1633.0 835.85 L1635.0 835.86 L1637.0 835.87 L1639.0 835.87 L1641.0 835.88 L1645.0 835.89 L1649.0 835.89 L1651.2 835.89" fill="none" stroke="#006ee2" stroke-width="6.3" stroke-linejoin="round" stroke-linecap="butt"/>
<path d="M102.8 671.48 L106.8 671.48 L110.8 671.48 L114.8 671.48 L118.8 671.49 L122.8 671.50 L126.8 671.51 L130.8 671.52 L134.8 671.53 L138.8 671.55 L142.8 671.56 L146.8 671.57 L150.8 671.58 L152.8 671.59 L154.8 671.59 L156.8 671.60 L158.8 671.60 L160.8 671.60 L162.8 671.60 L164.8 671.60 L166.8 671.60 L168.8 671.59 L170.8 671.58 L172.8 671.57 L174.8 671.55 L176.8 671.52 L177.8 671.51 L178.8 671.49 L179.8 671.47 L180.8 671.44 L181.8 671.41 L182.8 671.38 L183.8 671.34 L184.8 671.29 L185.8 671.23 L186.8 671.16 L187.8 671.07 L188.8 670.96 L189.8 670.83 L190.8 670.65 L191.8 670.42 L192.2 670.31 L192.6 670.19 L193.0 670.04 L193.4 669.88 L193.8 669.70 L194.2 669.49 L194.6 669.24 L195.0 668.95 L195.4 668.61 L195.8 668.21 L196.2 667.73 L196.6 667.16 L197.0 666.45 L197.4 665.58 L197.8 664.50 L198.2 663.14 L198.6 661.39 L199.0 659.14 L199.4 656.22 L199.8 652.44 L200.2 647.63 L200.6 641.85 L201.0 635.68 L201.4 630.58 L201.8 628.55 L202.2 630.59 L202.6 635.68 L203.0 641.86 L203.4 647.64 L203.8 652.44 L204.2 656.23 L204.6 659.15 L205.0 661.40 L205.4 663.15 L205.8 664.52 L206.2 665.60 L206.6 666.47 L207.0 667.18 L207.4 667.76 L207.8 668.24 L208.2 668.64 L208.6 668.98 L209.0 669.27 L209.4 669.52 L209.8 669.74 L210.2 669.93 L210.6 670.09 L211.0 670.24 L211.4 670.37 L211.8 670.48 L212.2 670.59 L212.6 670.68 L213.0 670.76 L214.0 670.94 L215.0 671.09 L216.0 671.20 L217.0 671.30 L218.0 671.39 L219.0 671.46 L220.0 671.53 L221.0 671.59 L222.0 671.64 L223.0 671.69 L224.0 671.73 L225.0 671.77 L226.0 671.81 L227.0 671.85 L228.0 671.89 L230.0 671.96 L232.0 672.03 L234.0 672.09 L236.0 672.16 L238.0 672.22 L240.0 672.28 L242.0 672.34 L244.0 672.40 L246.0 672.47 L248.0 672.53 L250.0 672.59 L252.0 672.65 L254.0 672.70 L256.0 672.76 L260.0 672.88 L264.0 672.98 L268.0 673.09 L272.0 673.18 L276.0 673.27 L280.0 673.34 L284.0 673.40 L288.0 673.46 L292.0 673.50 L296.0 673.52 L300.0 673.53 L304.0 673.53 L308.0 673.50 L312.0 673.44 L316.0 673.36 L320.0 673.26 L324.0 673.13 L328.0 672.98 L332.0 672.83 L336.0 672.66 L340.0 672.48 L344.0 672.30 L348.0 672.12 L352.0 671.95 L356.0 671.78 L360.0 671.63 L364.0 671.49 L366.0 671.43 L368.0 671.37 L370.0 671.31 L372.0 671.26 L374.0 671.21 L376.0 671.16 L378.0 671.11 L380.0 671.07 L382.0 671.02 L384.0 670.96 L386.0 670.89 L388.0 670.81 L390.0 670.70 L392.0 670.57 L393.0 670.49 L394.0 670.40 L395.0 670.30 L396.0 670.18 L397.0 670.04 L398.0 669.88 L399.0 669.70 L400.0 669.47 L401.0 669.20 L402.0 668.88 L403.0 668.48 L404.0 667.97 L405.0 667.33 L405.4 667.03 L405.8 666.68 L406.2 666.30 L406.6 665.87 L407.0 665.39 L407.4 664.84 L407.8 664.21 L408.2 663.49 L408.6 662.66 L409.0 661.70 L409.4 660.57 L409.8 659.25 L410.2 657.67 L410.6 655.78 L411.0 653.49 L411.4 650.70 L411.8 647.23 L412.2 642.90 L412.6 637.42 L413.0 630.42 L413.4 621.40 L413.8 609.79 L414.2 594.99 L414.6 576.82 L415.0 556.29 L415.4 536.81 L415.8 524.37 L416.2 524.37 L416.6 536.80 L417.0 556.28 L417.4 576.81 L417.8 594.97 L418.2 609.77 L418.6 621.38 L419.0 630.39 L419.4 637.39 L419.8 642.87 L420.2 647.20 L420.6 650.66 L421.0 653.45 L421.4 655.74 L421.8 657.62 L422.2 659.20 L422.6 660.52 L423.0 661.64 L423.4 662.60 L423.8 663.43 L424.2 664.14 L424.6 664.76 L425.0 665.31 L425.4 665.79 L425.8 666.22 L426.2 666.60 L426.6 666.93 L427.0 667.24 L427.4 667.51 L428.4 668.08 L429.4 668.53 L430.4 668.89 L431.4 669.18 L432.4 669.42 L433.4 669.61 L434.4 669.78 L435.4 669.91 L436.4 670.03 L437.4 670.13 L438.4 670.21 L439.4 670.28 L440.4 670.34 L441.4 670.39 L442.4 670.43 L444.4 670.49 L446.4 670.52 L448.4 670.53 L450.4 670.51 L451.4 670.50 L452.4 670.47 L453.4 670.44 L454.4 670.40 L455.4 670.34 L456.4 670.28 L457.4 670.20 L458.4 670.10 L459.4 669.98 L460.4 669.82 L461.4 669.63 L462.4 669.40 L463.4 669.09 L464.4 668.69 L464.8 668.50 L465.2 668.28 L465.6 668.03 L466.0 667.75 L466.4 667.43 L466.8 667.06 L467.2 666.63 L467.6 666.14 L468.0 665.56 L468.4 664.88 L468.8 664.06 L469.2 663.09 L469.6 661.91 L470.0 660.47 L470.4 658.68 L470.8 656.45 L471.2 653.62 L471.6 650.00 L472.0 645.35 L472.4 639.35 L472.8 631.71 L473.2 622.32 L473.6 611.72 L474.0 601.66 L474.4 595.24 L474.8 595.24 L475.2 601.66 L475.6 611.72 L476.0 622.33 L476.4 631.72 L476.8 639.36 L477.2 645.36 L477.6 650.02 L478.0 653.63 L478.4 656.46 L478.8 658.70 L479.2 660.49 L479.6 661.94 L480.0 663.12 L480.4 664.09 L480.8 664.91 L481.2 665.59 L481.6 666.17 L482.0 666.67 L482.4 667.10 L482.8 667.47 L483.2 667.79 L483.6 668.08 L484.0 668.33 L484.4 668.55 L484.8 668.74 L485.2 668.92 L485.6 669.08 L486.0 669.22 L487.0 669.52 L488.0 669.76 L489.0 669.94 L490.0 670.10 L491.0 670.23 L492.0 670.33 L493.0 670.42 L494.0 670.50 L495.0 670.56 L496.0 670.62 L497.0 670.67 L498.0 670.71 L499.0 670.75 L500.0 670.78 L501.0 670.81 L503.0 670.86 L505.0 670.90 L507.0 670.93 L509.0 670.96 L511.0 670.98 L513.0 671.00 L515.0 671.01 L517.0 671.02 L519.0 671.04 L521.0 671.04 L523.0 671.05 L525.0 671.06 L527.0 671.06 L529.0 671.07 L531.0 671.07 L535.0 671.08 L539.0 671.08 L543.0 671.08 L547.0 671.08 L549.0 671.08 L551.0 671.08 L553.0 671.08 L555.0 671.08 L557.0 671.08 L559.0 671.08 L561.0 671.07 L563.0 671.07 L565.0 671.06 L567.0 671.05 L569.0 671.04 L571.0 671.02 L573.0 671.01 L575.0 670.98 L576.0 670.97 L577.0 670.95 L578.0 670.93 L579.0 670.91 L580.0 670.89 L581.0 670.86 L582.0 670.83 L583.0 670.80 L584.0 670.75 L585.0 670.70 L586.0 670.64 L587.0 670.56 L588.0 670.46 L589.0 670.34 L589.4 670.28 L589.8 670.21 L590.2 670.14 L590.6 670.06 L591.0 669.97 L591.4 669.86 L591.8 669.74 L592.2 669.60 L592.6 669.44 L593.0 669.25 L593.4 669.03 L593.8 668.77 L594.2 668.46 L594.6 668.09 L595.0 667.63 L595.4 667.07 L595.8 666.37 L596.2 665.48 L596.6 664.36 L597.0 662.90 L597.4 661.02 L597.8 658.57 L598.2 655.47 L598.6 651.74 L599.0 647.76 L599.4 644.46 L599.8 643.15 L600.2 644.46 L600.6 647.75 L601.0 651.73 L601.4 655.46 L601.8 658.55 L602.2 660.99 L602.6 662.88 L603.0 664.33 L603.4 665.45 L603.8 666.33 L604.2 667.03 L604.6 667.58 L605.0 668.04 L605.4 668.41 L605.8 668.71 L606.2 668.97 L606.6 669.18 L607.0 669.37 L607.4 669.53 L607.8 669.66 L608.2 669.78 L608.6 669.88 L609.0 669.97 L609.4 670.05 L609.8 670.12 L610.2 670.18 L610.6 670.24 L611.6 670.35 L612.6 670.44 L613.6 670.50 L614.6 670.56 L615.6 670.60 L616.6 670.64 L617.6 670.66 L618.6 670.69 L619.6 670.71 L620.6 670.72 L621.6 670.73 L622.6 670.74 L623.6 670.75 L624.6 670.76 L625.6 670.76 L627.6 670.77 L629.6 670.77 L631.6 670.77 L633.6 670.76 L635.6 670.76 L637.6 670.75 L639.6 670.75 L641.6 670.74 L643.6 670.73 L645.6 670.72 L647.6 670.71 L649.6 670.71 L651.6 670.70 L653.6 670.69 L655.6 670.68 L659.6 670.66 L663.6 670.64 L667.6 670.63 L671.6 670.61 L675.6 670.60 L679.6 670.59 L683.6 670.58 L687.6 670.57 L691.6 670.56 L695.6 670.56 L699.6 670.56 L703.6 670.58 L705.6 670.62 L707.6 670.67 L709.6 670.73 L711.6 670.81 L713.6 670.89 L715.6 670.99 L717.6 671.09 L719.6 671.19 L721.6 671.30 L723.6 671.42 L725.6 671.52 L727.6 671.63 L729.6 671.73 L731.6 671.83 L733.6 671.91 L735.6 671.98 L737.6 672.04 L739.6 672.09 L741.6 672.12 L743.6 672.14 L745.6 672.14 L747.6 672.14 L749.6 672.13 L751.6 672.13 L753.6 672.12 L755.6 672.11 L757.6 672.10 L759.6 672.09 L761.6 672.08 L763.6 672.07 L765.6 672.05 L767.6 672.04 L769.6 672.02 L771.6 672.00 L773.6 671.97 L775.6 671.95 L777.6 671.91 L779.6 671.87 L780.6 671.85 L781.6 671.83 L782.6 671.80 L783.6 671.77 L784.6 671.73 L785.6 671.69 L786.6 671.65 L787.6 671.60 L788.6 671.54 L789.6 671.46 L790.6 671.38 L791.6 671.27 L792.6 671.14 L793.6 670.97 L794.0 670.89 L794.4 670.80 L794.8 670.70 L795.2 670.59 L795.6 670.47 L796.0 670.32 L796.4 670.16 L796.8 669.97 L797.2 669.76 L797.6 669.50 L798.0 669.20 L798.4 668.85 L798.8 668.43 L799.2 667.92 L799.6 667.30 L800.0 666.53 L800.4 665.57 L800.8 664.35 L801.2 662.79 L801.6 660.78 L802.0 658.17 L802.4 654.81 L802.8 650.57 L803.2 645.58 L803.6 640.50 L804.0 636.73 L804.4 635.86 L804.8 638.33 L805.2 642.97 L805.6 648.12 L806.0 652.77 L806.4 656.56 L806.8 659.52 L807.2 661.80 L807.6 663.56 L808.0 664.93 L808.4 666.00 L808.8 666.85 L809.2 667.54 L809.6 668.09 L810.0 668.55 L810.4 668.93 L810.8 669.25 L811.2 669.51 L811.6 669.74 L812.0 669.94 L812.4 670.10 L812.8 670.25 L813.2 670.38 L813.6 670.49 L814.0 670.59 L814.4 670.67 L814.8 670.75 L815.2 670.82 L816.2 670.96 L817.2 671.07 L818.2 671.15 L819.2 671.22 L820.2 671.27 L821.2 671.31 L822.2 671.35 L823.2 671.38 L824.2 671.40 L825.2 671.42 L826.2 671.43 L827.2 671.44 L828.2 671.45 L829.2 671.45 L830.2 671.46 L832.2 671.46 L834.2 671.46 L836.2 671.46 L838.2 671.45 L840.2 671.45 L842.2 671.44 L844.2 671.43 L846.2 671.41 L848.2 671.40 L850.2 671.39 L852.2 671.37 L854.2 671.36 L856.2 671.35 L858.2 671.33 L860.2 671.32 L862.2 671.30 L863.2 671.29 L864.2 671.29 L865.2 671.28 L866.2 671.27 L867.2 671.26 L868.2 671.26 L869.2 671.25 L870.2 671.24 L871.2 671.23 L872.2 671.22 L873.2 671.21 L874.2 671.21 L875.2 671.20 L876.2 671.19 L877.2 671.18 L878.2 671.17 L879.2 671.16 L880.2 671.15 L881.2 671.13 L882.2 671.12 L883.2 671.11 L884.2 671.10 L885.2 671.08 L886.2 671.06 L887.2 671.05 L888.2 671.03 L889.2 671.01 L890.2 670.98 L891.2 670.96 L892.2 670.93 L893.2 670.90 L894.2 670.86 L895.2 670.82 L896.2 670.77 L897.2 670.71 L898.2 670.64 L899.2 670.55 L900.2 670.45 L901.2 670.32 L902.2 670.16 L903.2 669.94 L903.6 669.84 L904.0 669.73 L904.4 669.60 L904.8 669.45 L905.2 669.29 L905.6 669.10 L906.0 668.88 L906.4 668.63 L906.8 668.33 L907.2 667.99 L907.6 667.58 L908.0 667.09 L908.4 666.50 L908.8 665.78 L909.2 664.89 L909.6 663.78 L910.0 662.39 L910.4 660.61 L910.8 658.31 L911.2 655.32 L911.6 651.45 L912.0 646.55 L912.4 640.64 L912.8 634.34 L913.2 629.13 L913.6 627.05 L914.0 629.13 L914.4 634.33 L914.8 640.64 L915.2 646.54 L915.6 651.45 L916.0 655.31 L916.4 658.30 L916.8 660.60 L917.2 662.38 L917.6 663.77 L918.0 664.88 L918.4 665.76 L918.8 666.48 L919.2 667.07 L919.6 667.56 L920.0 667.97 L920.4 668.31 L920.8 668.61 L921.2 668.86 L921.6 669.07 L922.0 669.26 L922.4 669.43 L922.8 669.57 L923.2 669.70 L923.6 669.81 L924.0 669.91 L924.4 670.00 L924.8 670.08 L925.8 670.25 L926.8 670.38 L927.8 670.49 L928.8 670.57 L929.8 670.64 L930.8 670.70 L931.8 670.75 L932.8 670.79 L933.8 670.82 L934.8 670.85 L935.8 670.87 L936.8 670.89 L937.8 670.91 L938.8 670.93 L939.8 670.94 L940.8 670.95 L941.8 670.96 L942.2 670.96 L942.6 670.96 L943.0 670.97 L943.4 670.97 L943.8 670.97 L944.2 670.97 L944.6 670.97 L945.0 670.97 L945.4 670.98 L945.8 670.98 L946.2 670.98 L946.6 670.98 L947.0 670.98 L947.4 670.98 L947.8 670.98 L948.2 670.98 L948.6 670.98 L949.0 670.98 L949.4 670.98 L949.8 670.98 L950.2 670.98 L950.6 670.98 L951.0 670.98 L951.4 670.98 L951.8 670.98 L952.2 670.97 L952.6 670.97 L953.0 670.97 L953.4 670.97 L953.8 670.97 L954.2 670.97 L954.6 670.96 L955.0 670.96 L955.4 670.96 L955.8 670.96 L956.2 670.95 L956.6 670.95 L957.0 670.95 L957.4 670.95 L957.8 670.94 L958.2 670.94 L958.6 670.94 L959.0 670.93 L959.4 670.93 L959.8 670.92 L960.2 670.92 L960.6 670.92 L961.0 670.91 L961.4 670.91 L961.8 670.90 L962.2 670.90 L962.6 670.89 L963.0 670.89 L963.4 670.88 L963.8 670.88 L964.2 670.87 L964.6 670.86 L965.0 670.86 L965.4 670.85 L965.8 670.84 L966.2 670.84 L966.6 670.83 L967.0 670.82 L967.4 670.81 L967.8 670.80 L968.2 670.80 L968.6 670.79 L969.0 670.78 L969.4 670.77 L969.8 670.76 L970.2 670.75 L970.6 670.73 L971.0 670.72 L971.4 670.71 L971.8 670.70 L972.2 670.68 L972.6 670.67 L973.0 670.65 L973.4 670.63 L973.8 670.62 L974.2 670.60 L974.6 670.58 L975.0 670.55 L975.4 670.53 L975.8 670.51 L976.2 670.48 L976.6 670.45 L977.0 670.42 L977.4 670.39 L977.8 670.35 L978.2 670.31 L978.6 670.27 L979.0 670.23 L979.4 670.18 L979.8 670.13 L980.2 670.07 L980.6 670.01 L981.0 669.95 L981.4 669.88 L981.8 669.81 L982.2 669.73 L982.6 669.65 L983.0 669.56 L983.4 669.46 L983.8 669.36 L984.2 669.25 L984.6 669.13 L985.0 669.01 L985.4 668.88 L985.8 668.74 L986.2 668.59 L986.6 668.44 L987.0 668.27 L987.4 668.10 L987.8 667.92 L988.2 667.73 L988.6 667.53 L989.0 667.33 L989.4 667.11 L989.8 666.89 L990.2 666.66 L990.6 666.42 L991.0 666.18 L991.4 665.92 L991.8 665.67 L992.2 665.40 L992.6 665.13 L993.0 664.86 L993.4 664.58 L993.8 664.30 L994.2 664.02 L994.6 663.74 L995.0 663.47 L995.4 663.19 L995.8 662.92 L996.2 662.65 L996.6 662.40 L997.0 662.15 L997.4 661.92 L997.8 661.70 L998.2 661.49 L998.6 661.31 L999.0 661.14 L999.4 660.99 L999.8 660.87 L1000.2 660.78 L1000.6 660.71 L1001.0 660.67 L1001.4 660.65 L1001.8 660.67 L1002.2 660.71 L1002.6 660.77 L1003.0 660.87 L1003.4 660.99 L1003.8 661.13 L1004.2 661.30 L1004.6 661.48 L1005.0 661.69 L1005.4 661.91 L1005.8 662.14 L1006.2 662.39 L1006.6 662.64 L1007.0 662.90 L1007.4 663.17 L1007.8 663.45 L1008.2 663.73 L1008.6 664.00 L1009.0 664.28 L1009.4 664.56 L1009.8 664.84 L1010.2 665.11 L1010.6 665.38 L1011.0 665.64 L1011.4 665.90 L1011.8 666.15 L1012.2 666.39 L1012.6 666.63 L1013.0 666.86 L1013.4 667.08 L1013.8 667.29 L1014.2 667.50 L1014.6 667.70 L1015.0 667.88 L1015.4 668.06 L1015.8 668.23 L1016.2 668.40 L1016.6 668.55 L1017.0 668.70 L1017.4 668.84 L1017.8 668.97 L1018.2 669.09 L1018.6 669.20 L1019.0 669.31 L1019.4 669.41 L1019.8 669.51 L1020.2 669.60 L1020.6 669.68 L1021.0 669.76 L1021.4 669.83 L1021.8 669.90 L1022.2 669.96 L1022.6 670.02 L1023.0 670.07 L1023.4 670.12 L1023.8 670.17 L1024.2 670.21 L1024.6 670.25 L1025.0 670.29 L1025.4 670.32 L1025.8 670.36 L1026.2 670.39 L1026.6 670.41 L1027.0 670.44 L1027.4 670.46 L1027.8 670.49 L1028.2 670.51 L1028.6 670.53 L1029.0 670.55 L1029.4 670.56 L1029.8 670.58 L1030.2 670.59 L1030.6 670.61 L1031.0 670.62 L1031.4 670.63 L1031.8 670.65 L1032.2 670.66 L1032.6 670.67 L1033.0 670.68 L1033.4 670.69 L1033.8 670.70 L1034.2 670.71 L1034.6 670.72 L1035.0 670.72 L1035.4 670.73 L1035.8 670.74 L1036.2 670.75 L1036.6 670.75 L1037.0 670.76 L1037.4 670.77 L1037.8 670.77 L1038.2 670.78 L1038.6 670.78 L1039.0 670.79 L1039.4 670.79 L1039.8 670.80 L1040.2 670.80 L1040.6 670.81 L1041.0 670.81 L1041.4 670.82 L1041.8 670.82 L1042.2 670.82 L1042.6 670.83 L1043.0 670.83 L1043.4 670.84 L1043.8 670.84 L1044.2 670.84 L1044.6 670.85 L1045.0 670.85 L1045.4 670.85 L1045.8 670.86 L1046.2 670.86 L1046.6 670.86 L1047.0 670.86 L1047.4 670.87 L1047.8 670.87 L1048.2 670.87 L1048.6 670.87 L1049.0 670.87 L1049.4 670.88 L1049.8 670.88 L1050.2 670.88 L1050.6 670.88 L1051.0 670.88 L1051.4 670.89 L1051.8 670.89 L1052.2 670.89 L1052.6 670.89 L1053.0 670.89 L1053.4 670.89 L1053.8 670.89 L1054.2 670.89 L1054.6 670.90 L1055.0 670.90 L1055.4 670.90 L1055.8 670.90 L1056.2 670.90 L1056.6 670.90 L1057.0 670.90 L1057.4 670.90 L1057.8 670.90 L1058.2 670.90 L1058.6 670.90 L1059.0 670.90 L1059.4 670.90 L1059.8 670.90 L1060.2 670.91 L1060.6 670.91 L1061.0 670.91 L1061.4 670.91 L1062.4 670.91 L1063.4 670.91 L1064.4 670.91 L1065.4 670.90 L1066.4 670.90 L1067.4 670.90 L1068.4 670.90 L1069.4 670.90 L1070.4 670.90 L1071.4 670.89 L1072.4 670.89 L1073.4 670.89 L1074.4 670.88 L1075.4 670.88 L1076.4 670.87 L1077.4 670.87 L1078.4 670.86 L1079.4 670.86 L1080.4 670.85 L1081.4 670.84 L1082.4 670.83 L1083.4 670.83 L1084.4 670.81 L1085.4 670.80 L1086.4 670.79 L1087.4 670.78 L1088.4 670.76 L1089.4 670.74 L1090.4 670.72 L1091.4 670.70 L1092.4 670.68 L1093.4 670.65 L1094.4 670.61 L1095.4 670.57 L1096.4 670.53 L1097.4 670.47 L1098.4 670.40 L1099.4 670.32 L1100.4 670.22 L1100.8 670.17 L1101.2 670.11 L1101.6 670.06 L1102.0 669.99 L1102.4 669.92 L1102.8 669.84 L1103.2 669.74 L1103.6 669.64 L1104.0 669.52 L1104.4 669.39 L1104.8 669.24 L1105.2 669.06 L1105.6 668.85 L1106.0 668.61 L1106.4 668.32 L1106.8 667.98 L1107.2 667.56 L1107.6 667.06 L1108.0 666.44 L1108.4 665.67 L1108.8 664.71 L1109.2 663.50 L1109.6 661.98 L1110.0 660.10 L1110.4 657.83 L1110.8 655.29 L1111.2 652.81 L1111.6 650.96 L1112.0 650.34 L1112.4 651.07 L1112.8 652.73 L1113.2 654.64 L1113.6 656.29 L1114.0 657.46 L1114.4 658.07 L1114.8 658.20 L1115.2 658.00 L1115.6 657.76 L1116.0 657.87 L1116.4 658.56 L1116.8 659.79 L1117.2 661.28 L1117.6 662.76 L1118.0 664.06 L1118.4 665.15 L1118.8 666.03 L1119.2 666.74 L1119.6 667.30 L1120.0 667.76 L1120.4 668.14 L1120.8 668.45 L1121.2 668.70 L1121.6 668.91 L1122.0 669.09 L1122.4 669.25 L1122.8 669.38 L1123.2 669.49 L1123.6 669.59 L1124.0 669.67 L1124.4 669.75 L1124.8 669.81 L1125.2 669.87 L1125.6 669.92 L1126.0 669.96 L1126.4 670.00 L1126.8 670.03 L1127.2 670.06 L1127.6 670.09 L1128.0 670.11 L1128.4 670.12 L1129.4 670.16 L1130.4 670.17 L1131.4 670.17 L1132.4 670.16 L1133.4 670.13 L1134.4 670.09 L1135.4 670.03 L1136.4 669.94 L1137.4 669.83 L1137.8 669.77 L1138.2 669.71 L1138.6 669.64 L1139.0 669.57 L1139.4 669.48 L1139.8 669.38 L1140.2 669.27 L1140.6 669.14 L1141.0 668.99 L1141.4 668.82 L1141.8 668.63 L1142.2 668.40 L1142.6 668.14 L1143.0 667.83 L1143.4 667.46 L1143.8 667.01 L1144.2 666.48 L1144.6 665.83 L1145.0 665.03 L1145.4 664.04 L1145.8 662.79 L1146.2 661.23 L1146.6 659.26 L1147.0 656.81 L1147.4 653.86 L1147.8 650.56 L1148.2 647.33 L1148.6 644.94 L1149.0 644.13 L1149.4 645.09 L1149.8 647.25 L1150.2 649.74 L1150.6 651.90 L1151.0 653.42 L1151.4 654.23 L1151.8 654.39 L1152.2 654.13 L1152.6 653.83 L1153.0 653.98 L1153.4 654.88 L1153.8 656.49 L1154.2 658.43 L1154.6 660.36 L1155.0 662.07 L1155.4 663.49 L1155.8 664.64 L1156.2 665.56 L1156.6 666.31 L1157.0 666.91 L1157.4 667.41 L1157.8 667.81 L1158.2 668.15 L1158.6 668.44 L1159.0 668.68 L1159.4 668.89 L1159.8 669.07 L1160.2 669.22 L1160.6 669.36 L1161.0 669.48 L1161.4 669.58 L1161.8 669.68 L1162.2 669.76 L1162.6 669.84 L1163.0 669.91 L1163.4 669.97 L1163.8 670.02 L1164.2 670.07 L1164.6 670.12 L1165.0 670.16 L1165.4 670.20 L1166.4 670.28 L1167.4 670.35 L1168.4 670.41 L1169.4 670.46 L1170.4 670.50 L1171.4 670.54 L1172.4 670.57 L1173.4 670.59 L1174.4 670.62 L1175.4 670.64 L1176.4 670.65 L1177.4 670.67 L1178.4 670.68 L1179.4 670.70 L1180.4 670.71 L1181.4 670.72 L1183.4 670.74 L1185.4 670.75 L1187.4 670.76 L1189.4 670.78 L1191.4 670.78 L1193.4 670.79 L1195.4 670.80 L1197.4 670.80 L1199.4 670.81 L1201.4 670.81 L1203.4 670.82 L1205.4 670.82 L1207.4 670.82 L1209.4 670.83 L1211.4 670.83 L1213.4 670.83 L1215.4 670.83 L1217.4 670.84 L1219.4 670.84 L1221.4 670.84 L1223.4 670.84 L1225.4 670.84 L1227.4 670.84 L1229.4 670.84 L1231.4 670.85 L1233.4 670.85 L1235.4 670.85 L1237.4 670.85 L1239.4 670.86 L1241.4 670.86 L1243.4 670.86 L1245.4 670.87 L1247.4 670.87 L1249.4 670.88 L1251.4 670.88 L1253.4 670.89 L1255.4 670.89 L1257.4 670.90 L1259.4 670.91 L1260.4 670.91 L1261.4 670.92 L1262.4 670.92 L1263.4 670.92 L1264.4 670.93 L1265.4 670.93 L1266.4 670.94 L1267.4 670.94 L1268.4 670.94 L1269.4 670.95 L1270.4 670.95 L1271.4 670.96 L1272.4 670.96 L1273.4 670.97 L1274.4 670.97 L1275.4 670.98 L1276.4 670.98 L1277.4 670.99 L1278.4 670.99 L1279.4 671.00 L1280.4 671.00 L1281.4 671.01 L1282.4 671.01 L1283.4 671.02 L1284.4 671.02 L1285.4 671.03 L1286.4 671.03 L1287.4 671.04 L1288.4 671.05 L1289.4 671.05 L1290.4 671.06 L1291.4 671.06 L1292.4 671.07 L1293.4 671.07 L1294.4 671.08 L1295.4 671.08 L1296.4 671.09 L1297.4 671.09 L1298.4 671.10 L1299.4 671.10 L1300.4 671.11 L1301.4 671.11 L1302.4 671.11 L1303.4 671.12 L1304.4 671.12 L1305.4 671.12 L1306.4 671.13 L1307.4 671.13 L1307.8 671.13 L1308.2 671.13 L1308.6 671.13 L1309.0 671.13 L1309.4 671.13 L1309.8 671.13 L1310.2 671.13 L1310.6 671.13 L1311.0 671.13 L1311.4 671.13 L1311.8 671.13 L1312.2 671.13 L1312.6 671.13 L1313.0 671.13 L1313.4 671.13 L1313.8 671.13 L1314.2 671.13 L1314.6 671.13 L1315.0 671.13 L1315.4 671.13 L1315.8 671.12 L1316.2 671.12 L1316.6 671.12 L1317.0 671.12 L1317.4 671.12 L1317.8 671.11 L1318.2 671.11 L1318.6 671.11 L1319.0 671.10 L1319.4 671.10 L1319.8 671.09 L1320.2 671.09 L1320.6 671.08 L1321.0 671.07 L1321.4 671.07 L1321.8 671.06 L1322.2 671.05 L1322.6 671.04 L1323.0 671.03 L1323.4 671.02 L1323.8 671.01 L1324.2 671.00 L1324.6 670.98 L1325.0 670.97 L1325.4 670.95 L1325.8 670.93 L1326.2 670.91 L1326.6 670.88 L1327.0 670.85 L1327.4 670.82 L1327.8 670.78 L1328.2 670.73 L1328.6 670.69 L1329.0 670.63 L1329.4 670.56 L1329.8 670.49 L1330.2 670.41 L1330.6 670.32 L1331.0 670.21 L1331.4 670.09 L1331.8 669.96 L1332.2 669.81 L1332.6 669.65 L1333.0 669.46 L1333.4 669.26 L1333.8 669.04 L1334.2 668.80 L1334.6 668.55 L1335.0 668.27 L1335.4 667.97 L1335.8 667.65 L1336.2 667.32 L1336.6 666.97 L1337.0 666.61 L1337.4 666.24 L1337.8 665.86 L1338.2 665.48 L1338.6 665.10 L1339.0 664.73 L1339.4 664.37 L1339.8 664.03 L1340.2 663.72 L1340.6 663.45 L1341.0 663.22 L1341.4 663.04 L1341.8 662.92 L1342.2 662.86 L1342.6 662.86 L1343.0 662.93 L1343.4 663.06 L1343.8 663.24 L1344.2 663.48 L1344.6 663.76 L1345.0 664.08 L1345.4 664.42 L1345.8 664.79 L1346.2 665.17 L1346.6 665.56 L1347.0 665.95 L1347.4 666.33 L1347.8 666.71 L1348.2 667.08 L1348.6 667.44 L1349.0 667.78 L1349.4 668.10 L1349.8 668.41 L1350.2 668.69 L1350.6 668.96 L1351.0 669.20 L1351.4 669.43 L1351.8 669.64 L1352.2 669.83 L1352.6 670.00 L1353.0 670.16 L1353.4 670.30 L1353.8 670.42 L1354.2 670.54 L1354.6 670.64 L1355.0 670.73 L1355.4 670.81 L1355.8 670.88 L1356.2 670.94 L1356.6 671.00 L1357.0 671.05 L1357.4 671.10 L1357.8 671.14 L1358.2 671.17 L1358.6 671.21 L1359.0 671.24 L1359.4 671.26 L1359.8 671.29 L1360.2 671.31 L1360.6 671.34 L1361.0 671.36 L1361.4 671.37 L1361.8 671.39 L1362.2 671.41 L1362.6 671.43 L1363.0 671.44 L1363.4 671.46 L1363.8 671.47 L1364.2 671.48 L1364.6 671.50 L1365.0 671.51 L1365.4 671.52 L1365.8 671.53 L1366.2 671.54 L1366.6 671.55 L1367.0 671.56 L1367.4 671.57 L1367.8 671.58 L1368.2 671.59 L1368.6 671.60 L1369.0 671.61 L1369.4 671.62 L1369.8 671.63 L1370.2 671.64 L1370.6 671.64 L1371.0 671.65 L1371.4 671.66 L1371.8 671.67 L1372.2 671.68 L1372.6 671.68 L1373.0 671.69 L1373.4 671.70 L1373.8 671.70 L1374.2 671.71 L1374.6 671.72 L1375.0 671.72 L1375.4 671.73 L1375.8 671.74 L1376.2 671.74 L1376.6 671.75 L1377.0 671.75 L1377.4 671.76 L1377.8 671.76 L1378.2 671.77 L1378.6 671.78 L1379.6 671.79 L1380.6 671.80 L1381.6 671.81 L1382.6 671.83 L1383.6 671.84 L1384.6 671.85 L1385.6 671.86 L1386.6 671.87 L1387.6 671.88 L1388.6 671.89 L1389.6 671.90 L1390.6 671.91 L1391.6 671.92 L1392.6 671.93 L1393.6 671.94 L1394.6 671.95 L1395.6 671.96 L1396.6 671.96 L1397.6 671.97 L1398.6 671.98 L1399.6 671.99 L1400.6 671.99 L1401.6 672.00 L1402.6 672.01 L1403.6 672.02 L1404.6 672.02 L1405.6 672.03 L1406.6 672.04 L1407.6 672.04 L1408.6 672.05 L1409.6 672.06 L1410.6 672.06 L1411.6 672.07 L1412.6 672.07 L1413.6 672.08 L1414.6 672.08 L1415.6 672.09 L1416.6 672.09 L1417.6 672.10 L1418.6 672.10 L1419.6 672.11 L1420.6 672.11 L1421.6 672.12 L1422.6 672.12 L1423.6 672.13 L1424.6 672.13 L1425.6 672.13 L1426.6 672.14 L1428.6 672.14 L1430.6 672.15 L1432.6 672.16 L1434.6 672.16 L1436.6 672.17 L1438.6 672.17 L1440.6 672.17 L1442.6 672.18 L1444.6 672.18 L1446.6 672.18 L1448.6 672.18 L1450.6 672.18 L1452.6 672.18 L1454.6 672.19 L1456.6 672.19 L1458.6 672.20 L1460.6 672.21 L1462.6 672.22 L1464.6 672.24 L1466.6 672.26 L1468.6 672.27 L1470.6 672.29 L1472.6 672.32 L1474.6 672.34 L1476.6 672.37 L1478.6 672.39 L1480.6 672.42 L1482.6 672.46 L1484.6 672.49 L1486.6 672.53 L1488.6 672.56 L1490.6 672.60 L1492.6 672.64 L1494.6 672.68 L1496.6 672.73 L1498.6 672.77 L1500.6 672.82 L1502.6 672.87 L1504.6 672.92 L1506.6 672.97 L1508.6 673.02 L1510.6 673.07 L1512.6 673.13 L1514.6 673.18 L1516.6 673.24 L1518.6 673.30 L1520.6 673.35 L1522.6 673.41 L1526.6 673.54 L1530.6 673.66 L1534.6 673.79 L1538.6 673.92 L1542.6 674.05 L1546.6 674.18 L1550.6 674.31 L1554.6 674.44 L1558.6 674.58 L1562.6 674.71 L1566.6 674.83 L1570.6 674.96 L1574.6 675.08 L1578.6 675.21 L1582.6 675.32 L1586.6 675.44 L1590.6 675.54 L1594.6 675.65 L1598.6 675.75 L1602.6 675.84 L1606.6 675.92 L1610.6 676.00 L1614.6 676.08 L1618.6 676.14 L1622.6 676.20 L1626.6 676.25 L1630.6 676.30 L1634.6 676.33 L1638.6 676.36 L1642.6 676.38 L1646.6 676.39 L1650.6 676.40 L1651.2 676.40" fill="none" stroke="#00ae68" stroke-width="6.3" stroke-linejoin="round" stroke-linecap="butt"/>
<path d="M102.8 488.57 L106.8 488.57 L110.8 488.57 L114.8 488.56 L118.8 488.56 L122.8 488.56 L126.8 488.55 L130.8 488.54 L134.8 488.54 L138.8 488.53 L142.8 488.52 L146.8 488.50 L148.8 488.50 L150.8 488.49 L152.8 488.48 L154.8 488.47 L156.8 488.46 L158.8 488.45 L160.8 488.44 L162.8 488.42 L164.8 488.41 L166.8 488.39 L168.8 488.36 L170.8 488.34 L172.8 488.30 L174.8 488.26 L176.8 488.22 L177.8 488.19 L178.8 488.15 L179.8 488.12 L180.8 488.07 L181.8 488.03 L182.8 487.97 L183.8 487.90 L184.8 487.82 L185.8 487.72 L186.8 487.60 L187.8 487.46 L188.8 487.28 L189.8 487.04 L190.2 486.93 L190.6 486.81 L191.0 486.67 L191.4 486.51 L191.8 486.33 L192.2 486.13 L192.6 485.90 L193.0 485.63 L193.4 485.32 L193.8 484.96 L194.2 484.54 L194.6 484.04 L195.0 483.44 L195.4 482.72 L195.8 481.84 L196.2 480.76 L196.6 479.41 L197.0 477.70 L197.4 475.53 L197.8 472.72 L198.2 469.07 L198.6 464.35 L199.0 458.36 L199.4 451.15 L199.8 443.45 L200.2 437.09 L200.6 434.55 L201.0 437.09 L201.4 443.44 L201.8 451.14 L202.2 458.35 L202.6 464.34 L203.0 469.06 L203.4 472.71 L203.8 475.51 L204.2 477.69 L204.6 479.39 L205.0 480.74 L205.4 481.83 L205.8 482.70 L206.2 483.42 L206.6 484.02 L207.0 484.52 L207.4 484.94 L207.8 485.30 L208.2 485.61 L208.6 485.87 L209.0 486.10 L209.4 486.30 L209.8 486.48 L210.2 486.64 L210.6 486.77 L211.0 486.90 L211.4 487.01 L212.4 487.24 L213.4 487.42 L214.4 487.56 L215.4 487.67 L216.4 487.77 L217.4 487.84 L218.4 487.91 L219.4 487.96 L220.4 488.01 L221.4 488.05 L222.4 488.08 L223.4 488.11 L224.4 488.14 L225.4 488.16 L226.4 488.18 L228.4 488.21 L230.4 488.24 L232.4 488.26 L234.4 488.27 L236.4 488.29 L238.4 488.30 L240.4 488.31 L242.4 488.31 L244.4 488.32 L246.4 488.32 L248.4 488.33 L250.4 488.33 L252.4 488.33 L254.4 488.34 L256.4 488.34 L260.4 488.34 L264.4 488.34 L268.4 488.34 L272.4 488.34 L276.4 488.34 L280.4 488.34 L284.4 488.34 L288.4 488.34 L292.4 488.33 L296.4 488.33 L300.4 488.33 L304.4 488.33 L308.4 488.33 L312.4 488.32 L316.4 488.32 L320.4 488.32 L324.4 488.31 L328.4 488.31 L332.4 488.30 L336.4 488.29 L340.4 488.29 L344.4 488.28 L348.4 488.26 L352.4 488.25 L356.4 488.23 L360.4 488.21 L364.4 488.19 L366.4 488.17 L368.4 488.15 L370.4 488.13 L372.4 488.11 L374.4 488.08 L376.4 488.05 L378.4 488.02 L380.4 487.98 L382.4 487.93 L384.4 487.87 L386.4 487.80 L388.4 487.71 L390.4 487.60 L391.4 487.54 L392.4 487.47 L393.4 487.39 L394.4 487.29 L395.4 487.19 L396.4 487.06 L397.4 486.92 L398.4 486.75 L399.4 486.56 L400.4 486.32 L401.4 486.03 L402.4 485.68 L403.4 485.25 L404.4 484.71 L405.4 484.00 L405.8 483.67 L406.2 483.29 L406.6 482.86 L407.0 482.39 L407.4 481.84 L407.8 481.22 L408.2 480.51 L408.6 479.69 L409.0 478.74 L409.4 477.63 L409.8 476.31 L410.2 474.76 L410.6 472.89 L411.0 470.62 L411.4 467.85 L411.8 464.43 L412.2 460.14 L412.6 454.72 L413.0 447.79 L413.4 438.87 L413.8 427.37 L414.2 412.73 L414.6 394.75 L415.0 374.43 L415.4 355.16 L415.8 342.85 L416.2 342.85 L416.6 355.16 L417.0 374.43 L417.4 394.74 L417.8 412.72 L418.2 427.36 L418.6 438.86 L419.0 447.77 L419.4 454.70 L419.8 460.12 L420.2 464.41 L420.6 467.83 L421.0 470.60 L421.4 472.86 L421.8 474.72 L422.2 476.28 L422.6 477.59 L423.0 478.70 L423.4 479.65 L423.8 480.47 L424.2 481.18 L424.6 481.79 L425.0 482.34 L425.4 482.81 L425.8 483.23 L426.2 483.61 L426.6 483.94 L427.0 484.24 L427.4 484.51 L428.4 485.08 L429.4 485.52 L430.4 485.88 L431.4 486.17 L432.4 486.41 L433.4 486.60 L434.4 486.77 L435.4 486.90 L436.4 487.02 L437.4 487.11 L438.4 487.20 L439.4 487.27 L440.4 487.32 L441.4 487.37 L442.4 487.41 L444.4 487.47 L446.4 487.50 L448.4 487.50 L450.4 487.47 L451.4 487.45 L452.4 487.41 L453.4 487.37 L454.4 487.32 L455.4 487.25 L456.4 487.17 L457.4 487.07 L458.4 486.94 L459.4 486.79 L460.4 486.60 L461.4 486.37 L462.4 486.07 L463.4 485.69 L464.4 485.19 L464.8 484.95 L465.2 484.68 L465.6 484.37 L466.0 484.02 L466.4 483.62 L466.8 483.16 L467.2 482.63 L467.6 482.02 L468.0 481.29 L468.4 480.44 L468.8 479.43 L469.2 478.22 L469.6 476.75 L470.0 474.95 L470.4 472.72 L470.8 469.93 L471.2 466.40 L471.6 461.89 L472.0 456.08 L472.4 448.60 L472.8 439.06 L473.2 427.35 L473.6 414.12 L474.0 401.57 L474.4 393.56 L474.8 393.56 L475.2 401.58 L475.6 414.13 L476.0 427.37 L476.4 439.08 L476.8 448.62 L477.2 456.11 L477.6 461.92 L478.0 466.44 L478.4 469.97 L478.8 472.77 L479.2 475.00 L479.6 476.80 L480.0 478.28 L480.4 479.50 L480.8 480.52 L481.2 481.37 L481.6 482.10 L482.0 482.72 L482.4 483.25 L482.8 483.72 L483.2 484.12 L483.6 484.48 L484.0 484.79 L484.4 485.07 L484.8 485.32 L485.2 485.54 L485.6 485.74 L486.0 485.91 L487.0 486.29 L488.0 486.59 L489.0 486.83 L490.0 487.02 L491.0 487.19 L492.0 487.32 L493.0 487.44 L494.0 487.54 L495.0 487.62 L496.0 487.69 L497.0 487.76 L498.0 487.81 L499.0 487.86 L500.0 487.91 L501.0 487.95 L503.0 488.02 L505.0 488.07 L507.0 488.12 L509.0 488.16 L511.0 488.19 L513.0 488.22 L515.0 488.24 L517.0 488.26 L519.0 488.28 L521.0 488.30 L523.0 488.31 L525.0 488.33 L527.0 488.34 L529.0 488.35 L531.0 488.36 L535.0 488.38 L539.0 488.39 L543.0 488.40 L547.0 488.41 L549.0 488.41 L551.0 488.41 L553.0 488.42 L555.0 488.42 L557.0 488.42 L559.0 488.42 L561.0 488.42 L563.0 488.41 L565.0 488.41 L567.0 488.41 L569.0 488.40 L571.0 488.39 L573.0 488.38 L575.0 488.36 L576.0 488.35 L577.0 488.34 L578.0 488.32 L579.0 488.31 L580.0 488.29 L581.0 488.27 L582.0 488.24 L583.0 488.21 L584.0 488.17 L585.0 488.12 L586.0 488.06 L587.0 487.98 L588.0 487.89 L589.0 487.76 L589.4 487.70 L589.8 487.63 L590.2 487.56 L590.6 487.47 L591.0 487.37 L591.4 487.25 L591.8 487.12 L592.2 486.96 L592.6 486.78 L593.0 486.57 L593.4 486.31 L593.8 486.00 L594.2 485.62 L594.6 485.16 L595.0 484.58 L595.4 483.86 L595.8 482.93 L596.2 481.74 L596.6 480.20 L597.0 478.20 L597.4 475.64 L597.8 472.50 L598.2 469.02 L598.6 465.90 L599.0 464.23 L599.4 464.81 L599.8 467.35 L600.2 470.78 L600.6 474.14 L601.0 477.00 L601.4 479.27 L601.8 481.03 L602.2 482.38 L602.6 483.43 L603.0 484.25 L603.4 484.89 L603.8 485.41 L604.2 485.83 L604.6 486.17 L605.0 486.46 L605.4 486.69 L605.8 486.89 L606.2 487.06 L606.6 487.20 L607.0 487.33 L607.4 487.44 L607.8 487.53 L608.2 487.62 L608.6 487.69 L609.0 487.75 L609.4 487.81 L609.8 487.86 L610.2 487.91 L611.2 488.01 L612.2 488.09 L613.2 488.15 L614.2 488.20 L615.2 488.24 L616.2 488.27 L617.2 488.30 L618.2 488.33 L619.2 488.35 L620.2 488.37 L621.2 488.38 L622.2 488.40 L623.2 488.41 L624.2 488.42 L625.2 488.43 L627.2 488.45 L629.2 488.46 L631.2 488.47 L633.2 488.48 L635.2 488.49 L637.2 488.50 L639.2 488.51 L641.2 488.51 L643.2 488.52 L645.2 488.52 L647.2 488.52 L649.2 488.53 L651.2 488.53 L653.2 488.53 L657.2 488.54 L661.2 488.54 L665.2 488.55 L669.2 488.55 L673.2 488.55 L677.2 488.55 L681.2 488.56 L685.2 488.56 L689.2 488.56 L693.2 488.56 L697.2 488.56 L701.2 488.56 L705.2 488.56 L709.2 488.56 L713.2 488.57 L717.2 488.58 L721.2 488.59 L725.2 488.60 L729.2 488.61 L733.2 488.63 L737.2 488.65 L741.2 488.66 L745.2 488.68 L749.2 488.70 L753.2 488.72 L755.2 488.73 L757.2 488.74 L759.2 488.75 L761.2 488.76 L763.2 488.77 L765.2 488.78 L767.2 488.79 L769.2 488.79 L771.2 488.80 L773.2 488.80 L775.2 488.80 L777.2 488.80 L779.2 488.79 L780.2 488.78 L781.2 488.77 L782.2 488.76 L783.2 488.74 L784.2 488.72 L785.2 488.70 L786.2 488.67 L787.2 488.64 L788.2 488.60 L789.2 488.54 L790.2 488.47 L791.2 488.39 L792.2 488.28 L793.2 488.14 L794.2 487.96 L794.6 487.87 L795.0 487.76 L795.4 487.65 L795.8 487.52 L796.2 487.36 L796.6 487.19 L797.0 486.99 L797.4 486.75 L797.8 486.47 L798.2 486.14 L798.6 485.75 L799.0 485.27 L799.4 484.70 L799.8 483.98 L800.2 483.10 L800.6 481.98 L801.0 480.56 L801.4 478.73 L801.8 476.36 L802.2 473.28 L802.6 469.34 L803.0 464.51 L803.4 459.15 L803.8 454.34 L804.2 451.76 L804.6 452.67 L805.0 456.59 L805.4 461.87 L805.8 467.06 L806.2 471.46 L806.6 474.96 L807.0 477.67 L807.4 479.76 L807.8 481.38 L808.2 482.65 L808.6 483.65 L809.0 484.44 L809.4 485.09 L809.8 485.62 L810.2 486.06 L810.6 486.43 L811.0 486.74 L811.4 487.00 L811.8 487.23 L812.2 487.42 L812.6 487.59 L813.0 487.74 L813.4 487.87 L813.8 487.99 L814.2 488.09 L814.6 488.18 L815.0 488.27 L815.4 488.34 L816.4 488.50 L817.4 488.63 L818.4 488.73 L819.4 488.81 L820.4 488.88 L821.4 488.94 L822.4 489.00 L823.4 489.04 L824.4 489.08 L825.4 489.12 L826.4 489.15 L827.4 489.18 L828.4 489.20 L829.4 489.23 L830.4 489.25 L832.4 489.29 L834.4 489.32 L836.4 489.35 L838.4 489.38 L840.4 489.41 L842.4 489.43 L844.4 489.45 L846.4 489.47 L848.4 489.48 L850.4 489.50 L852.4 489.51 L854.4 489.53 L856.4 489.54 L858.4 489.55 L860.4 489.56 L862.4 489.57 L864.4 489.57 L866.4 489.58 L868.4 489.58 L870.4 489.58 L872.4 489.58 L874.4 489.58 L876.4 489.57 L878.4 489.57 L880.4 489.55 L882.4 489.54 L884.4 489.52 L886.4 489.49 L888.4 489.45 L889.4 489.43 L890.4 489.40 L891.4 489.37 L892.4 489.34 L893.4 489.30 L894.4 489.25 L895.4 489.20 L896.4 489.13 L897.4 489.06 L898.4 488.96 L899.4 488.85 L900.4 488.71 L901.4 488.54 L902.4 488.32 L903.4 488.03 L903.8 487.89 L904.2 487.74 L904.6 487.56 L905.0 487.36 L905.4 487.13 L905.8 486.87 L906.2 486.57 L906.6 486.22 L907.0 485.81 L907.4 485.33 L907.8 484.76 L908.2 484.07 L908.6 483.23 L909.0 482.20 L909.4 480.93 L909.8 479.34 L910.2 477.31 L910.6 474.71 L911.0 471.34 L911.4 466.97 L911.8 461.35 L912.2 454.36 L912.6 446.35 L913.0 438.63 L913.4 433.64 L913.8 433.64 L914.2 438.63 L914.6 446.34 L915.0 454.36 L915.4 461.35 L915.8 466.97 L916.2 471.34 L916.6 474.71 L917.0 477.31 L917.4 479.33 L917.8 480.93 L918.2 482.20 L918.6 483.22 L919.0 484.06 L919.4 484.75 L919.8 485.32 L920.2 485.81 L920.6 486.21 L921.0 486.56 L921.4 486.87 L921.8 487.13 L922.2 487.35 L922.6 487.55 L923.0 487.73 L923.4 487.88 L923.8 488.02 L924.2 488.14 L924.6 488.25 L925.6 488.48 L926.6 488.66 L927.6 488.81 L928.6 488.92 L929.6 489.02 L930.6 489.10 L931.6 489.16 L932.6 489.22 L933.6 489.27 L934.6 489.31 L935.6 489.34 L936.6 489.37 L937.6 489.40 L938.6 489.42 L939.6 489.44 L940.6 489.46 L941.6 489.47 L942.6 489.49 L943.6 489.50 L944.6 489.51 L945.6 489.52 L946.6 489.53 L947.6 489.53 L948.6 489.54 L949.6 489.54 L950.6 489.55 L951.6 489.55 L952.0 489.55 L952.4 489.55 L952.8 489.55 L953.2 489.55 L953.6 489.55 L954.0 489.55 L954.4 489.55 L954.8 489.55 L955.2 489.55 L955.6 489.55 L956.0 489.55 L956.4 489.55 L956.8 489.55 L957.2 489.55 L957.6 489.55 L958.0 489.55 L958.4 489.55 L958.8 489.55 L959.2 489.54 L959.6 489.54 L960.0 489.54 L960.4 489.54 L960.8 489.54 L961.2 489.54 L961.6 489.53 L962.0 489.53 L962.4 489.53 L962.8 489.53 L963.2 489.52 L963.6 489.52 L964.0 489.52 L964.4 489.51 L964.8 489.51 L965.2 489.51 L965.6 489.50 L966.0 489.50 L966.4 489.49 L966.8 489.49 L967.2 489.49 L967.6 489.48 L968.0 489.48 L968.4 489.47 L968.8 489.46 L969.2 489.46 L969.6 489.45 L970.0 489.45 L970.4 489.44 L970.8 489.43 L971.2 489.42 L971.6 489.42 L972.0 489.41 L972.4 489.40 L972.8 489.39 L973.2 489.38 L973.6 489.37 L974.0 489.36 L974.4 489.34 L974.8 489.33 L975.2 489.32 L975.6 489.30 L976.0 489.29 L976.4 489.27 L976.8 489.25 L977.2 489.23 L977.6 489.21 L978.0 489.18 L978.4 489.16 L978.8 489.13 L979.2 489.10 L979.6 489.06 L980.0 489.02 L980.4 488.98 L980.8 488.94 L981.2 488.89 L981.6 488.83 L982.0 488.78 L982.4 488.71 L982.8 488.64 L983.2 488.56 L983.6 488.47 L984.0 488.38 L984.4 488.28 L984.8 488.17 L985.2 488.05 L985.6 487.92 L986.0 487.78 L986.4 487.63 L986.8 487.47 L987.2 487.29 L987.6 487.11 L988.0 486.91 L988.4 486.70 L988.8 486.48 L989.2 486.25 L989.6 486.00 L990.0 485.75 L990.4 485.48 L990.8 485.21 L991.2 484.92 L991.6 484.63 L992.0 484.33 L992.4 484.02 L992.8 483.71 L993.2 483.40 L993.6 483.08 L994.0 482.77 L994.4 482.47 L994.8 482.17 L995.2 481.88 L995.6 481.61 L996.0 481.35 L996.4 481.12 L996.8 480.91 L997.2 480.73 L997.6 480.59 L998.0 480.47 L998.4 480.39 L998.8 480.36 L999.2 480.36 L999.6 480.40 L1000.0 480.47 L1000.4 480.59 L1000.8 480.74 L1001.2 480.92 L1001.6 481.13 L1002.0 481.36 L1002.4 481.62 L1002.8 481.89 L1003.2 482.18 L1003.6 482.48 L1004.0 482.78 L1004.4 483.10 L1004.8 483.41 L1005.2 483.72 L1005.6 484.04 L1006.0 484.34 L1006.4 484.64 L1006.8 484.94 L1007.2 485.23 L1007.6 485.50 L1008.0 485.77 L1008.4 486.03 L1008.8 486.27 L1009.2 486.51 L1009.6 486.73 L1010.0 486.94 L1010.4 487.14 L1010.8 487.32 L1011.2 487.50 L1011.6 487.66 L1012.0 487.81 L1012.4 487.95 L1012.8 488.08 L1013.2 488.20 L1013.6 488.32 L1014.0 488.42 L1014.4 488.51 L1014.8 488.60 L1015.2 488.68 L1015.6 488.75 L1016.0 488.82 L1016.4 488.88 L1016.8 488.94 L1017.2 488.99 L1017.6 489.03 L1018.0 489.07 L1018.4 489.11 L1018.8 489.15 L1019.2 489.18 L1019.6 489.21 L1020.0 489.24 L1020.4 489.26 L1020.8 489.29 L1021.2 489.31 L1021.6 489.33 L1022.0 489.35 L1022.4 489.36 L1022.8 489.38 L1023.2 489.39 L1023.6 489.41 L1024.0 489.42 L1024.4 489.44 L1024.8 489.45 L1025.2 489.46 L1025.6 489.47 L1026.0 489.48 L1026.4 489.49 L1026.8 489.50 L1027.2 489.51 L1027.6 489.52 L1028.0 489.53 L1028.4 489.53 L1028.8 489.54 L1029.2 489.55 L1029.6 489.56 L1030.0 489.56 L1030.4 489.57 L1030.8 489.58 L1031.2 489.58 L1031.6 489.59 L1032.0 489.59 L1032.4 489.60 L1032.8 489.60 L1033.2 489.61 L1033.6 489.61 L1034.0 489.62 L1034.4 489.62 L1034.8 489.63 L1035.2 489.63 L1035.6 489.64 L1036.0 489.64 L1036.4 489.65 L1036.8 489.65 L1037.2 489.65 L1037.6 489.66 L1038.0 489.66 L1038.4 489.66 L1038.8 489.67 L1039.2 489.67 L1039.6 489.67 L1040.0 489.68 L1040.4 489.68 L1040.8 489.68 L1041.2 489.69 L1041.6 489.69 L1042.0 489.69 L1042.4 489.69 L1042.8 489.70 L1043.2 489.70 L1043.6 489.70 L1044.0 489.70 L1044.4 489.71 L1044.8 489.71 L1045.2 489.71 L1045.6 489.71 L1046.0 489.71 L1046.4 489.72 L1046.8 489.72 L1047.2 489.72 L1048.2 489.72 L1049.2 489.73 L1050.2 489.73 L1051.2 489.74 L1052.2 489.74 L1053.2 489.74 L1054.2 489.74 L1055.2 489.75 L1056.2 489.75 L1057.2 489.75 L1058.2 489.75 L1059.2 489.75 L1060.2 489.76 L1061.2 489.76 L1062.2 489.76 L1063.2 489.76 L1064.2 489.76 L1065.2 489.76 L1066.2 489.76 L1067.2 489.76 L1068.2 489.76 L1069.2 489.76 L1070.2 489.75 L1071.2 489.75 L1072.2 489.75 L1073.2 489.75 L1074.2 489.75 L1075.2 489.74 L1076.2 489.74 L1077.2 489.73 L1078.2 489.73 L1079.2 489.72 L1080.2 489.72 L1081.2 489.71 L1082.2 489.70 L1083.2 489.69 L1084.2 489.68 L1085.2 489.67 L1086.2 489.66 L1087.2 489.65 L1088.2 489.63 L1089.2 489.61 L1090.2 489.59 L1091.2 489.56 L1092.2 489.54 L1093.2 489.50 L1094.2 489.46 L1095.2 489.42 L1096.2 489.36 L1097.2 489.30 L1098.2 489.22 L1099.2 489.12 L1100.2 489.00 L1100.6 488.95 L1101.0 488.88 L1101.4 488.81 L1101.8 488.73 L1102.2 488.65 L1102.6 488.55 L1103.0 488.44 L1103.4 488.32 L1103.8 488.18 L1104.2 488.02 L1104.6 487.83 L1105.0 487.62 L1105.4 487.37 L1105.8 487.08 L1106.2 486.73 L1106.6 486.32 L1107.0 485.82 L1107.4 485.21 L1107.8 484.46 L1108.2 483.54 L1108.6 482.38 L1109.0 480.92 L1109.4 479.09 L1109.8 476.81 L1110.2 474.08 L1110.6 471.01 L1111.0 468.01 L1111.4 465.79 L1111.8 465.03 L1112.2 465.92 L1112.6 467.92 L1113.0 470.23 L1113.4 472.23 L1113.8 473.64 L1114.2 474.38 L1114.6 474.53 L1115.0 474.29 L1115.4 474.01 L1115.8 474.14 L1116.2 474.97 L1116.6 476.46 L1117.0 478.27 L1117.4 480.05 L1117.8 481.63 L1118.2 482.94 L1118.6 484.01 L1119.0 484.86 L1119.4 485.55 L1119.8 486.11 L1120.2 486.56 L1120.6 486.93 L1121.0 487.24 L1121.4 487.50 L1121.8 487.72 L1122.2 487.91 L1122.6 488.07 L1123.0 488.21 L1123.4 488.33 L1123.8 488.43 L1124.2 488.52 L1124.6 488.60 L1125.0 488.67 L1125.4 488.73 L1125.8 488.79 L1126.2 488.84 L1126.6 488.88 L1127.0 488.92 L1127.4 488.95 L1127.8 488.98 L1128.2 489.00 L1129.2 489.05 L1130.2 489.08 L1131.2 489.09 L1132.2 489.09 L1133.2 489.07 L1134.2 489.03 L1135.2 488.97 L1136.2 488.90 L1137.2 488.79 L1137.6 488.74 L1138.0 488.68 L1138.4 488.62 L1138.8 488.54 L1139.2 488.46 L1139.6 488.37 L1140.0 488.26 L1140.4 488.14 L1140.8 488.00 L1141.2 487.84 L1141.6 487.66 L1142.0 487.45 L1142.4 487.21 L1142.8 486.93 L1143.2 486.59 L1143.6 486.20 L1144.0 485.72 L1144.4 485.14 L1144.8 484.44 L1145.2 483.58 L1145.6 482.51 L1146.0 481.17 L1146.4 479.48 L1146.8 477.35 L1147.2 474.71 L1147.6 471.53 L1148.0 467.97 L1148.4 464.49 L1148.8 461.90 L1149.2 461.03 L1149.6 462.07 L1150.0 464.40 L1150.4 467.09 L1150.8 469.42 L1151.2 471.06 L1151.6 471.93 L1152.0 472.11 L1152.4 471.83 L1152.8 471.51 L1153.2 471.67 L1153.6 472.64 L1154.0 474.38 L1154.4 476.48 L1154.8 478.56 L1155.2 480.40 L1155.6 481.94 L1156.0 483.18 L1156.4 484.18 L1156.8 484.99 L1157.2 485.64 L1157.6 486.17 L1158.0 486.61 L1158.4 486.98 L1158.8 487.29 L1159.2 487.55 L1159.6 487.78 L1160.0 487.97 L1160.4 488.14 L1160.8 488.29 L1161.2 488.42 L1161.6 488.53 L1162.0 488.63 L1162.4 488.72 L1162.8 488.81 L1163.2 488.88 L1163.6 488.95 L1164.0 489.01 L1164.4 489.06 L1164.8 489.11 L1165.2 489.16 L1165.6 489.20 L1166.6 489.29 L1167.6 489.37 L1168.6 489.43 L1169.6 489.49 L1170.6 489.53 L1171.6 489.57 L1172.6 489.61 L1173.6 489.64 L1174.6 489.66 L1175.6 489.69 L1176.6 489.71 L1177.6 489.73 L1178.6 489.74 L1179.6 489.76 L1180.6 489.77 L1181.6 489.78 L1183.6 489.81 L1185.6 489.82 L1187.6 489.84 L1189.6 489.85 L1191.6 489.86 L1193.6 489.87 L1195.6 489.88 L1197.6 489.89 L1199.6 489.90 L1201.6 489.90 L1203.6 489.91 L1205.6 489.91 L1207.6 489.92 L1209.6 489.92 L1211.6 489.92 L1213.6 489.93 L1215.6 489.93 L1217.6 489.93 L1219.6 489.94 L1221.6 489.94 L1223.6 489.94 L1225.6 489.95 L1227.6 489.95 L1229.6 489.95 L1231.6 489.95 L1233.6 489.96 L1235.6 489.96 L1237.6 489.96 L1239.6 489.96 L1241.6 489.97 L1243.6 489.97 L1245.6 489.97 L1247.6 489.97 L1249.6 489.97 L1251.6 489.98 L1253.6 489.98 L1255.6 489.98 L1257.6 489.98 L1259.6 489.99 L1260.6 489.99 L1261.6 489.99 L1262.6 489.99 L1263.6 489.99 L1264.6 489.99 L1265.6 489.99 L1266.6 489.99 L1267.6 489.99 L1268.6 489.99 L1269.6 489.99 L1270.6 490.00 L1271.6 490.00 L1272.6 490.00 L1273.6 490.00 L1274.6 490.00 L1275.6 490.00 L1276.6 490.00 L1277.6 490.00 L1278.6 490.00 L1279.6 490.00 L1280.6 490.00 L1281.6 490.00 L1282.6 490.00 L1283.6 490.00 L1284.6 490.00 L1285.6 490.00 L1286.6 490.00 L1287.6 490.00 L1288.6 490.00 L1289.6 490.00 L1290.6 490.00 L1291.6 490.00 L1292.6 490.00 L1293.6 490.00 L1294.6 489.99 L1295.6 489.99 L1296.6 489.99 L1297.6 489.99 L1298.6 489.99 L1299.6 489.98 L1300.6 489.98 L1301.6 489.98 L1302.6 489.97 L1303.6 489.97 L1304.6 489.97 L1305.6 489.96 L1306.6 489.95 L1307.0 489.95 L1307.4 489.95 L1307.8 489.95 L1308.2 489.94 L1308.6 489.94 L1309.0 489.94 L1309.4 489.93 L1309.8 489.93 L1310.2 489.93 L1310.6 489.92 L1311.0 489.92 L1311.4 489.92 L1311.8 489.91 L1312.2 489.91 L1312.6 489.90 L1313.0 489.90 L1313.4 489.89 L1313.8 489.89 L1314.2 489.88 L1314.6 489.88 L1315.0 489.87 L1315.4 489.86 L1315.8 489.86 L1316.2 489.85 L1316.6 489.84 L1317.0 489.84 L1317.4 489.83 L1317.8 489.82 L1318.2 489.81 L1318.6 489.80 L1319.0 489.79 L1319.4 489.78 L1319.8 489.77 L1320.2 489.76 L1320.6 489.75 L1321.0 489.73 L1321.4 489.72 L1321.8 489.70 L1322.2 489.69 L1322.6 489.67 L1323.0 489.65 L1323.4 489.63 L1323.8 489.61 L1324.2 489.58 L1324.6 489.56 L1325.0 489.53 L1325.4 489.50 L1325.8 489.46 L1326.2 489.42 L1326.6 489.37 L1327.0 489.32 L1327.4 489.27 L1327.8 489.20 L1328.2 489.13 L1328.6 489.04 L1329.0 488.95 L1329.4 488.84 L1329.8 488.73 L1330.2 488.59 L1330.6 488.44 L1331.0 488.27 L1331.4 488.08 L1331.8 487.87 L1332.2 487.64 L1332.6 487.39 L1333.0 487.11 L1333.4 486.80 L1333.8 486.47 L1334.2 486.12 L1334.6 485.73 L1335.0 485.33 L1335.4 484.90 L1335.8 484.45 L1336.2 483.98 L1336.6 483.49 L1337.0 483.00 L1337.4 482.49 L1337.8 481.99 L1338.2 481.49 L1338.6 481.01 L1339.0 480.54 L1339.4 480.11 L1339.8 479.73 L1340.2 479.39 L1340.6 479.12 L1341.0 478.92 L1341.4 478.79 L1341.8 478.75 L1342.2 478.79 L1342.6 478.92 L1343.0 479.12 L1343.4 479.40 L1343.8 479.73 L1344.2 480.12 L1344.6 480.55 L1345.0 481.02 L1345.4 481.50 L1345.8 482.00 L1346.2 482.51 L1346.6 483.02 L1347.0 483.51 L1347.4 484.00 L1347.8 484.47 L1348.2 484.92 L1348.6 485.35 L1349.0 485.76 L1349.4 486.15 L1349.8 486.50 L1350.2 486.84 L1350.6 487.14 L1351.0 487.42 L1351.4 487.68 L1351.8 487.91 L1352.2 488.12 L1352.6 488.31 L1353.0 488.48 L1353.4 488.64 L1353.8 488.77 L1354.2 488.89 L1354.6 489.00 L1355.0 489.10 L1355.4 489.18 L1355.8 489.25 L1356.2 489.32 L1356.6 489.38 L1357.0 489.43 L1357.4 489.48 L1357.8 489.52 L1358.2 489.56 L1358.6 489.59 L1359.0 489.62 L1359.4 489.65 L1359.8 489.68 L1360.2 489.70 L1360.6 489.72 L1361.0 489.74 L1361.4 489.76 L1361.8 489.78 L1362.2 489.80 L1362.6 489.81 L1363.0 489.83 L1363.4 489.84 L1363.8 489.85 L1364.2 489.87 L1364.6 489.88 L1365.0 489.89 L1365.4 489.90 L1365.8 489.91 L1366.2 489.92 L1366.6 489.93 L1367.0 489.94 L1367.4 489.95 L1367.8 489.96 L1368.2 489.97 L1368.6 489.97 L1369.0 489.98 L1369.4 489.99 L1369.8 489.99 L1370.2 490.00 L1370.6 490.01 L1371.0 490.01 L1371.4 490.02 L1371.8 490.03 L1372.2 490.03 L1372.6 490.04 L1373.0 490.04 L1373.4 490.05 L1373.8 490.05 L1374.2 490.06 L1374.6 490.06 L1375.0 490.07 L1375.4 490.07 L1375.8 490.07 L1376.2 490.08 L1376.6 490.08 L1377.0 490.09 L1377.4 490.09 L1377.8 490.09 L1378.8 490.10 L1379.8 490.11 L1380.8 490.12 L1381.8 490.13 L1382.8 490.13 L1383.8 490.14 L1384.8 490.15 L1385.8 490.15 L1386.8 490.16 L1387.8 490.16 L1388.8 490.17 L1389.8 490.17 L1390.8 490.18 L1391.8 490.18 L1392.8 490.18 L1393.8 490.19 L1394.8 490.19 L1395.8 490.20 L1396.8 490.20 L1397.8 490.20 L1398.8 490.21 L1399.8 490.21 L1400.8 490.21 L1401.8 490.21 L1402.8 490.22 L1403.8 490.22 L1404.8 490.22 L1405.8 490.22 L1406.8 490.23 L1407.8 490.23 L1408.8 490.23 L1409.8 490.23 L1410.8 490.24 L1411.8 490.24 L1412.8 490.24 L1413.8 490.24 L1414.8 490.24 L1415.8 490.25 L1416.8 490.25 L1417.8 490.25 L1418.8 490.25 L1419.8 490.25 L1420.8 490.25 L1421.8 490.25 L1422.8 490.26 L1423.8 490.26 L1424.8 490.26 L1425.8 490.26 L1427.8 490.26 L1429.8 490.26 L1431.8 490.27 L1433.8 490.27 L1435.8 490.27 L1437.8 490.27 L1439.8 490.27 L1441.8 490.27 L1443.8 490.28 L1445.8 490.28 L1447.8 490.28 L1449.8 490.28 L1451.8 490.28 L1453.8 490.28 L1455.8 490.28 L1457.8 490.29 L1459.8 490.29 L1461.8 490.30 L1463.8 490.31 L1465.8 490.31 L1467.8 490.32 L1469.8 490.33 L1471.8 490.34 L1473.8 490.35 L1475.8 490.37 L1477.8 490.38 L1479.8 490.39 L1481.8 490.41 L1483.8 490.42 L1485.8 490.44 L1487.8 490.46 L1489.8 490.48 L1491.8 490.49 L1493.8 490.51 L1495.8 490.53 L1497.8 490.56 L1499.8 490.58 L1501.8 490.60 L1503.8 490.62 L1505.8 490.65 L1507.8 490.67 L1509.8 490.70 L1511.8 490.72 L1513.8 490.75 L1515.8 490.78 L1517.8 490.80 L1519.8 490.83 L1521.8 490.86 L1525.8 490.92 L1529.8 490.98 L1533.8 491.04 L1537.8 491.10 L1541.8 491.16 L1545.8 491.23 L1549.8 491.29 L1553.8 491.35 L1557.8 491.41 L1561.8 491.48 L1565.8 491.54 L1569.8 491.60 L1573.8 491.66 L1577.8 491.72 L1581.8 491.77 L1585.8 491.83 L1589.8 491.88 L1593.8 491.93 L1597.8 491.98 L1601.8 492.02 L1605.8 492.06 L1609.8 492.10 L1613.8 492.14 L1617.8 492.17 L1621.8 492.20 L1625.8 492.22 L1629.8 492.24 L1633.8 492.26 L1637.8 492.28 L1641.8 492.29 L1645.8 492.29 L1649.8 492.30 L1651.2 492.30" fill="none" stroke="#c278e4" stroke-width="6.3" stroke-linejoin="round" stroke-linecap="butt"/>
<line x1="198.7" y1="324.0" x2="198.7" y2="1155.0" stroke="#000" stroke-width="3.9" stroke-dasharray="23.4 20.2" stroke-dashoffset="20.10"/>
<line x1="415.5" y1="324.0" x2="415.5" y2="1086.0" stroke="#000" stroke-width="3.9" stroke-dasharray="23.4 20.2" stroke-dashoffset="43.40"/>
<line x1="474.3" y1="311.2" x2="474.3" y2="981.0" stroke="#000" stroke-width="3.9" stroke-dasharray="23.4 20.2" stroke-dashoffset="12.10"/>
<line x1="599.6" y1="313.5" x2="599.6" y2="1143.0" stroke="#000" stroke-width="3.9" stroke-dasharray="23.4 20.2" stroke-dashoffset="21.10"/>
<line x1="804.6" y1="320.0" x2="804.6" y2="1107.5" stroke="#000" stroke-width="3.9" stroke-dasharray="23.4 20.2" stroke-dashoffset="20.20"/>
<line x1="913.3" y1="341.8" x2="913.3" y2="982.0" stroke="#000" stroke-width="3.9" stroke-dasharray="23.4 20.2" stroke-dashoffset="0.00"/>
<line x1="999.0" y1="324.7" x2="999.0" y2="995.0" stroke="#000" stroke-width="3.9" stroke-dasharray="23.4 20.2" stroke-dashoffset="6.30"/>
<line x1="1112.6" y1="327.2" x2="1112.6" y2="1157.0" stroke="#000" stroke-width="3.9" stroke-dasharray="23.4 20.2" stroke-dashoffset="20.30"/>
<line x1="1151.8" y1="329.0" x2="1151.8" y2="1157.0" stroke="#000" stroke-width="3.9" stroke-dasharray="23.4 20.2" stroke-dashoffset="21.60"/>
<line x1="1342.7" y1="326.2" x2="1342.7" y2="996.0" stroke="#000" stroke-width="3.9" stroke-dasharray="23.4 20.2" stroke-dashoffset="6.20"/>
<g stroke="#000" stroke-width="4" fill="none">
<line x1="102.7" y1="148" x2="102.7" y2="1206.6" stroke-width="4.3"/>
<line x1="100.6" y1="1203.6" x2="1651.6" y2="1203.6"/>
</g>
<g stroke="#000" stroke-width="3.4">
<line x1="221.7" y1="1192.5" x2="221.7" y2="1203"/>
<line x1="340.8" y1="1181" x2="340.8" y2="1203"/>
<line x1="459.9" y1="1192.5" x2="459.9" y2="1203"/>
<line x1="579.0" y1="1181" x2="579.0" y2="1203"/>
<line x1="698.1" y1="1192.5" x2="698.1" y2="1203"/>
<line x1="817.2" y1="1181" x2="817.2" y2="1203"/>
<line x1="936.3" y1="1192.5" x2="936.3" y2="1203"/>
<line x1="1055.4" y1="1181" x2="1055.4" y2="1203"/>
<line x1="1174.5" y1="1192.5" x2="1174.5" y2="1203"/>
<line x1="1293.6" y1="1181" x2="1293.6" y2="1203"/>
<line x1="1412.7" y1="1192.5" x2="1412.7" y2="1203"/>
<line x1="1531.8" y1="1181" x2="1531.8" y2="1203"/>
</g>
<rect x="98.4" y="29.2" width="1553.4" height="119" fill="#bac4fc" stroke="#000" stroke-width="4.2"/>
<g font-family="'Liberation Serif', 'DejaVu Serif', serif" fill="#000">
<text transform="matrix(0.3882 0 0 0.4961 158.11 117.05)" font-family="'DejaVu Sans', 'DejaVu Serif', serif" font-size="100">◆</text>
<text transform="matrix(1 0 0 0.794 197.25 115.20)" font-size="63.0">−</text>
<text x="231.2" y="122.6" font-size="60" letter-spacing="-0.5">Hematite</text>
<text transform="matrix(0.6082 0 0 0.6671 514.35 123.35)" font-family="'Liberation Serif', 'DejaVu Serif', serif" font-size="100" stroke="#bac4fc" stroke-width="1.10">◊</text>
<text transform="matrix(1 0 0 0.785 544.22 114.30)" font-size="63.7">−</text>
<text x="578.6" y="122.6" font-size="60" letter-spacing="-1.5">SFCA</text>
<text transform="matrix(0.6275 0 0 0.7205 809.56 134.54)" font-family="'Liberation Serif', 'DejaVu Serif', serif" font-size="100">*</text>
<text transform="matrix(1 0 0 0.767 840.74 114.40)" font-size="65.2">−</text>
<text font-size="60"><tspan x="875.9" y="121.2" font-size="80">(</tspan><tspan x="901.2" y="122.6" letter-spacing="2">Fe</tspan><tspan x="962" y="123" font-size="33" letter-spacing="0">1-x</tspan><tspan x="1007.4" y="122.6" letter-spacing="0.6">Cr</tspan><tspan x="1067.6" y="123" font-size="30" letter-spacing="0">x</tspan><tspan x="1082.6" y="121.2" font-size="80">)</tspan><tspan x="1109.8" y="123" font-size="33">2</tspan><tspan x="1126.5" y="122.6" font-size="63.5">O</tspan><tspan x="1170.5" y="123" font-size="33">3</tspan></text>
<text transform="matrix(0.6903 0 0 0.5829 1241.88 122.42)" font-family="'Noto Serif CJK SC', 'DejaVu Serif', serif" font-size="100">∇</text>
<text transform="matrix(1 0 0 0.807 1298.90 115.10)" font-size="61.9">−</text>
<text x="1332.2" y="122.6" font-size="60">Silicate</text>
</g>
<g fill="#000">
<text transform="matrix(0.5588 0 0 0.5814 186.47 268.65)" font-family="'Liberation Serif', 'DejaVu Serif', serif" font-size="100" stroke="#ffffff" stroke-width="1.23">◊</text>
<text transform="matrix(0.3474 0 0 0.4316 185.23 301.42)" font-family="'DejaVu Sans', 'DejaVu Serif', serif" font-size="100">◆</text>
<text transform="matrix(0.5464 0 0 0.5929 403.78 223.15)" font-family="'Liberation Serif', 'DejaVu Serif', serif" font-size="100" stroke="#ffffff" stroke-width="1.23">◊</text>
<text transform="matrix(0.5968 0 0 0.5039 387.76 266.05)" font-family="'Noto Serif CJK SC', 'DejaVu Serif', serif" font-size="100">∇</text>
<text transform="matrix(0.3368 0 0 0.4408 403.23 295.96)" font-family="'DejaVu Sans', 'DejaVu Serif', serif" font-size="100">◆</text>
<text transform="matrix(0.5600 0 0 0.6356 459.20 238.62)" font-family="'Liberation Serif', 'DejaVu Serif', serif" font-size="100">*</text>
<text transform="matrix(0.5567 0 0 0.5814 459.62 264.55)" font-family="'Liberation Serif', 'DejaVu Serif', serif" font-size="100" stroke="#ffffff" stroke-width="1.23">◊</text>
<text transform="matrix(0.3526 0 0 0.4408 459.52 294.86)" font-family="'DejaVu Sans', 'DejaVu Serif', serif" font-size="100">◆</text>
<text transform="matrix(0.3474 0 0 0.4500 586.23 293.00)" font-family="'DejaVu Sans', 'DejaVu Serif', serif" font-size="100">◆</text>
<text transform="matrix(0.5903 0 0 0.4882 774.78 264.86)" font-family="'Noto Serif CJK SC', 'DejaVu Serif', serif" font-size="100">∇</text>
<text transform="matrix(0.3408 0 0 0.4408 789.38 299.56)" font-family="'DejaVu Sans', 'DejaVu Serif', serif" font-size="100">◆</text>
<text transform="matrix(0.5600 0 0 0.6356 896.70 243.22)" font-family="'Liberation Serif', 'DejaVu Serif', serif" font-size="100">*</text>
<text transform="matrix(0.5588 0 0 0.5857 897.37 269.40)" font-family="'Liberation Serif', 'DejaVu Serif', serif" font-size="100" stroke="#ffffff" stroke-width="1.22">◊</text>
<text transform="matrix(0.3474 0 0 0.4408 897.83 301.96)" font-family="'DejaVu Sans', 'DejaVu Serif', serif" font-size="100">◆</text>
<text transform="matrix(0.5600 0 0 0.6438 985.80 288.30)" font-family="'Liberation Serif', 'DejaVu Serif', serif" font-size="100">*</text>
<text transform="matrix(0.3513 0 0 0.4408 985.07 307.46)" font-family="'DejaVu Sans', 'DejaVu Serif', serif" font-size="100">◆</text>
<text transform="matrix(0.3500 0 0 0.4447 1100.43 293.86)" font-family="'DejaVu Sans', 'DejaVu Serif', serif" font-size="100">◆</text>
<text transform="matrix(0.5600 0 0 0.6411 1131.00 274.37)" font-family="'Liberation Serif', 'DejaVu Serif', serif" font-size="100">*</text>
<text transform="matrix(0.3474 0 0 0.4408 1136.93 295.46)" font-family="'DejaVu Sans', 'DejaVu Serif', serif" font-size="100">◆</text>
<text transform="matrix(0.5650 0 0 0.6356 1327.78 289.62)" font-family="'Liberation Serif', 'DejaVu Serif', serif" font-size="100">*</text>
<text transform="matrix(0.3474 0 0 0.4421 1329.13 313.39)" font-family="'DejaVu Sans', 'DejaVu Serif', serif" font-size="100">◆</text>
<text transform="matrix(0.5340 0 0 0.5743 461.98 1025.10)" font-family="'Liberation Serif', 'DejaVu Serif', serif" font-size="100" stroke="#ffffff" stroke-width="1.26">◊</text>
<text transform="matrix(0.3408 0 0 0.4250 461.78 1054.75)" font-family="'DejaVu Sans', 'DejaVu Serif', serif" font-size="100">◆</text>
<text transform="matrix(0.5402 0 0 0.5743 899.33 1076.10)" font-family="'Liberation Serif', 'DejaVu Serif', serif" font-size="100" stroke="#ffffff" stroke-width="1.26">◊</text>
<text transform="matrix(0.3408 0 0 0.4263 898.28 1110.48)" font-family="'DejaVu Sans', 'DejaVu Serif', serif" font-size="100">◆</text>
</g>
<g font-family="'Liberation Serif', 'DejaVu Serif', serif" fill="#000" font-size="48.4">
<text x="1388.5" y="465.3">Cr<tspan font-size="25.5">2</tspan>O<tspan font-size="25.5">3</tspan>-5 wt%</text>
<text x="1385.1" y="645.7">Cr<tspan font-size="25.5">2</tspan>O<tspan font-size="25.5">3</tspan>-3 wt%</text>
<text x="1388.2" y="810.2">Cr<tspan font-size="25.5">2</tspan>O<tspan font-size="25.5">3</tspan>-2 wt%</text>
<text x="1387.3" y="962.1">Cr<tspan font-size="25.5">2</tspan>O<tspan font-size="25.5">3</tspan>-1 wt%</text>
<text x="1385.8" y="1137.0">Cr<tspan font-size="25.5">2</tspan>O<tspan font-size="25.5">3</tspan>-0 wt%</text>
</g>
<g font-family="'Liberation Serif', 'DejaVu Serif', serif" fill="#000" font-size="58" text-anchor="middle" letter-spacing="2">
<text x="103.2" y="1271.2">20</text>
<text x="341.4" y="1271.2">30</text>
<text x="579.6" y="1271.2">40</text>
<text x="817.8" y="1271.2">50</text>
<text x="1056.0" y="1271.2">60</text>
<text x="1294.2" y="1271.2">70</text>
<text x="1532.4" y="1271.2">80</text>
</g>
<text font-family="'Liberation Serif', 'DejaVu Serif', serif" x="742.4" y="1367.8" font-size="64" letter-spacing="1.1">2θ/(°)</text>
<text font-family="'Liberation Serif', 'DejaVu Serif', serif" transform="translate(63.9 802.6) rotate(-90)" font-size="64" letter-spacing="0.25">Intensity/a.u.</text>
</svg>
</body></html>
